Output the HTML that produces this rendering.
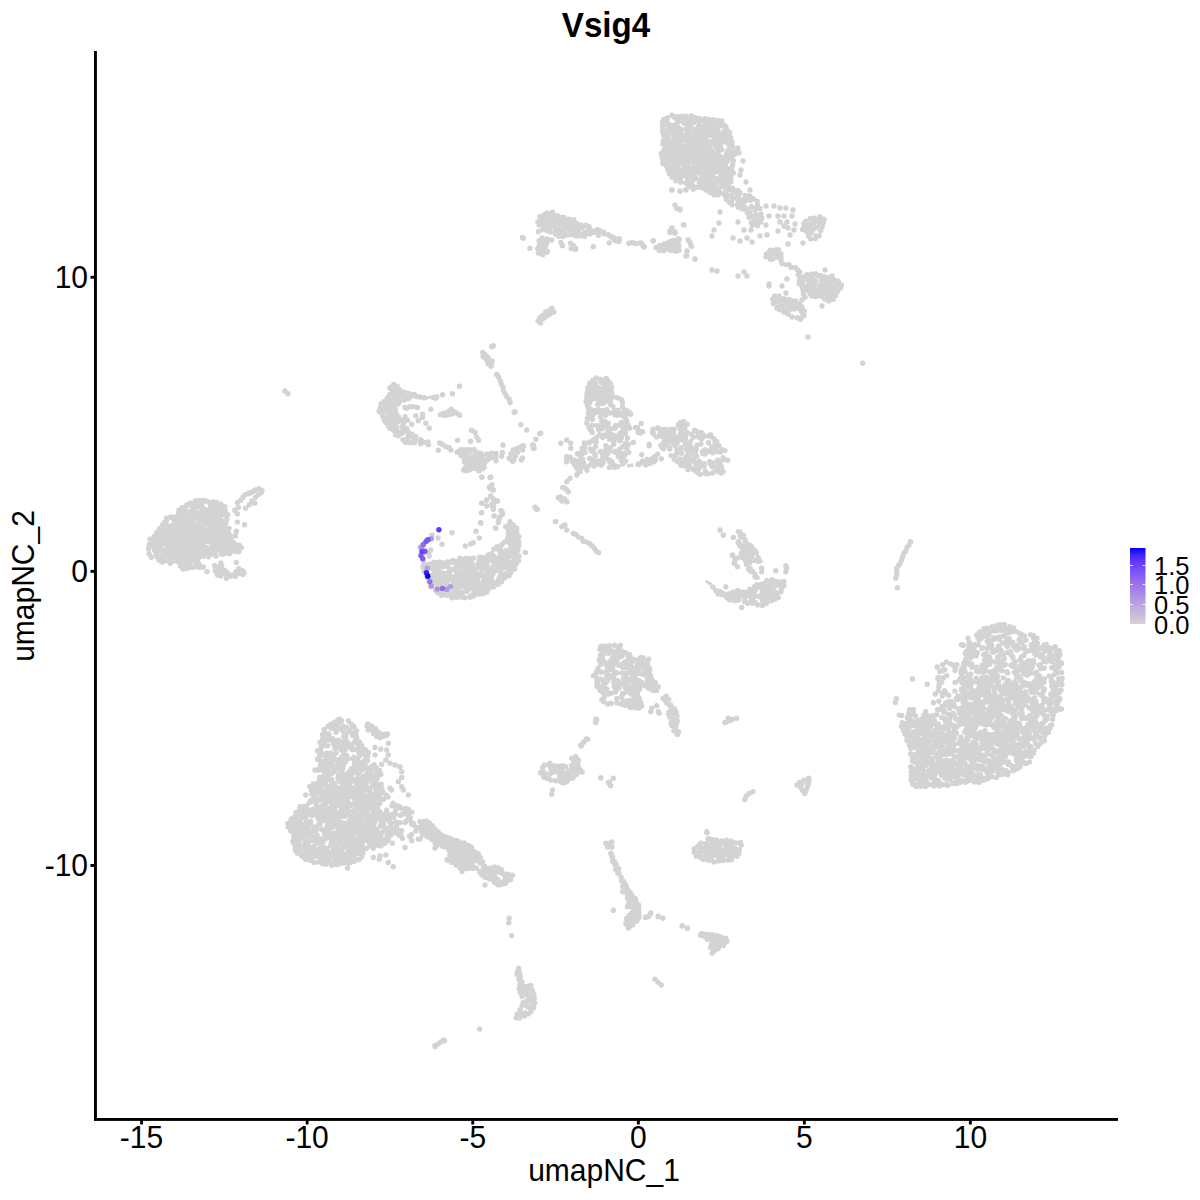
<!DOCTYPE html>
<html><head><meta charset="utf-8"><style>
html,body{margin:0;padding:0;background:#fff;width:1200px;height:1200px;overflow:hidden}
svg{position:absolute;left:0;top:0}
text{font-family:"Liberation Sans",sans-serif}
</style></head><body>
<svg width="1200" height="1200" viewBox="0 0 1200 1200">
<rect width="1200" height="1200" fill="#fff"/>
<g fill="#d3d3d3">
<polygon points="426.7,399.7 431.7,398 430.8,395.8 425.9,396.3 425.9,396.4 426,396.6 426.1,396.8 426.2,397 426.3,397.2 426.4,397.4 426.4,397.7 426.4,397.9 426.4,398.1 426.3,398.4 426.3,398.6 426.2,398.8 426.1,399 426,399.2 425.8,399.4 425.6,399.6 425.5,399.7 425.5,399.7"/>
<polygon points="633.3,463.3 626.7,464.2 627.5,467.5 633.3,466.7 634.1,466.7 634.1,466.7 633.9,466.5 633.8,466.3 633.6,466.2 633.5,466 633.3,465.8 633.2,465.6 633.2,465.3 633.1,465.1 633.1,464.9 633.1,464.6 633.1,464.4 633.1,464.1 633.2,463.9 633.3,463.7 633.4,463.5 633.5,463.3 633.5,463.3"/>
<polygon points="590,471.7 588.3,470 584.3,470.7 584.3,470.7 584.5,470.8 584.7,471 584.9,471.1 585.1,471.3 585.2,471.5 585.3,471.7 585.4,471.9 585.5,472.1 585.6,472.4 585.6,472.6 585.6,472.8 585.6,473.1 585.6,473.3 585.5,473.6 585.4,473.8 585.3,474 585.3,474"/>
<polygon points="710,581.7 705,579.7 705,581.7 710,585.8 710.5,586.5 710.5,586.5 710.5,586.3 710.5,586.1 710.6,585.8 710.7,585.6 710.8,585.4 710.9,585.2 711,585 711.2,584.8 711.3,584.7 711.5,584.5 711.7,584.4 712,584.3 712.2,584.2 712.4,584.2 712.6,584.1 712.9,584.1 713.1,584.1"/>
<polygon points="619.6,870.8 616.5,862.5 613.3,856.2 612.3,850.2 612.2,850.4 612,850.5 611.8,850.6 611.6,850.8 611.4,850.8 611.2,850.9 610.9,851 610.7,851 610.5,851 610.2,851 610,850.9 609.8,850.9 609.6,850.8 609.4,850.7 609.3,850.6 611.2,858.3 614.4,866.7 617.5,875 617.9,876.1 617.9,876.1 618,875.9 618.1,875.7 618.2,875.4 618.3,875.2 618.4,875.1 618.6,874.9 618.8,874.7 619,874.6 619.2,874.5 619.4,874.4 619.6,874.3 619.9,874.3 620.1,874.2 620.3,874.2 620.6,874.3 620.8,874.3 621,874.4 621.2,874.5 621.4,874.6 621.4,874.6"/>
<path d="M694.1 160.7h0M695.1 156.5h0M674.6 156.9h0M718.9 123.5h0M708.8 165.1h0M662.3 158.2h0M675 135.3h0M695 151.2h0M699 167.1h0M709.4 152.5h0M722.4 172.5h0M677.9 139.1h0M717 148h0M690.1 121.8h0M717.9 137.5h0M716.4 125.4h0M674.1 160.7h0M675.1 174.4h0M708.1 125.3h0M676.7 137.5h0M719.7 140.3h0M676.5 147.5h0M676.7 136.6h0M685.1 139.7h0M667.8 162.5h0M705 145.7h0M731 154.6h0M724.3 130.6h0M727.3 181.3h0M725.4 164.2h0M678.6 172.3h0M721.2 163.6h0M674 173.5h0M677.8 160.7h0M705.9 138.4h0M676.1 117.3h0M693.6 120.8h0M688 161.7h0M703.7 127.2h0M712.2 192.9h0M707.5 154.5h0M666.7 159.6h0M726.7 174.8h0M718.9 189.1h0M691.6 179.1h0M702.9 165.9h0M703.6 164.6h0M725.2 174.1h0M714.7 162.4h0M696.2 134.4h0M697.4 165.1h0M679.8 116.9h0M710.6 132.2h0M727.1 168.7h0M726.1 142.1h0M675.7 150.4h0M727.7 186.3h0M703.6 141.3h0M713 191.8h0M673.5 152h0M676.8 149.1h0M697.1 141.2h0M732.7 152.1h0M702.7 140.7h0M662.6 126.8h0M678.5 127.2h0M707 151.6h0M708.9 180.5h0M711 131.9h0M674.2 116.9h0M713.2 130.3h0M686.4 171.7h0M705.9 176.4h0M718.8 188.4h0M729.1 173.7h0M694.2 165.9h0M688.6 161.4h0M719.2 191.4h0M708.6 132.4h0M720.8 167.2h0M700.3 179.1h0M727.4 184.3h0M667.2 151.2h0M717.1 154.9h0M673.8 142.7h0M671.4 127.9h0M713.9 183.1h0M667.5 133.7h0M682.3 174.2h0M699.3 183.4h0M683.9 146.4h0M731.7 157.9h0M675.8 158.8h0M731.8 157.2h0M719.5 160.9h0M711.5 121.3h0M728.4 137.5h0M670.4 150.6h0M726.7 154h0M675.1 165.3h0M662.9 131.5h0M711.2 141.7h0M706.3 124.4h0M670.1 156.8h0M675.6 158.3h0M688.6 149h0M672.8 132.3h0M707.7 158.3h0M705.7 184.4h0M715.1 180.7h0M684.2 141.1h0M725.8 126.7h0M714.1 136.7h0M721.8 149.7h0M670.4 148.2h0M669.6 156.4h0M697.8 170.7h0M666.3 124.5h0M701.4 157.1h0M671.9 130.7h0M694.8 177.1h0M695.2 157.1h0M712.2 183.4h0M694.2 175h0M675.4 129.2h0M719.6 172.3h0M707 148.3h0M719.8 136.6h0M715.4 178.1h0M725.2 171.5h0M716.9 148.4h0M666.3 143.3h0M707.7 165.8h0M730 169.2h0M709.2 161.5h0M707.9 172h0M706 175h0M690.4 120h0M688.5 123.9h0M727.1 159.9h0M707.6 180.6h0M704.7 176.6h0M695.5 129.5h0M691.8 158.1h0M687.8 138.8h0M702 138.6h0M682.8 117.1h0M692.5 154.1h0M678.9 157.8h0M713.8 153.4h0M720.6 164.2h0M706.6 152.4h0M665 158.2h0M693.4 169.3h0M680.3 162.5h0M717.8 158.4h0M730.5 174.6h0M718.3 165.9h0M681 170.7h0M704.3 166.5h0M675 135.9h0M727.8 186.2h0M665.6 137.6h0M706.6 124.2h0M666.5 122.9h0M701.3 166.4h0M696 132.8h0M715.4 183h0M706.6 177.4h0M692.1 136.6h0M688.1 168.2h0M684.9 159.8h0M728.2 150.1h0M666.9 122.6h0M696.5 170.7h0M717.6 122.1h0M709.4 122.5h0M714 171.4h0M671.6 144.6h0M687.9 125.4h0M693.1 180.1h0M684.3 147.9h0M726.3 135.8h0M687.8 145h0M689.4 131.6h0M719.2 159.2h0M702.2 130.1h0M725.3 138.5h0M698.7 159.4h0M667.3 122.5h0M707.4 127.5h0M708.4 135.6h0M716.9 157.6h0M689.9 143h0M710.1 155.4h0M713.7 172.5h0M691.1 182h0M723.3 180.3h0M707.8 157.8h0M719.6 149.7h0M688.5 129.4h0M692.1 139.3h0M665.5 140.6h0M708.4 178h0M665.7 152.6h0M669.1 130.7h0M678.3 173.3h0M677.5 130.8h0M673.8 176.5h0M701.1 181.2h0M727.7 143.3h0M730.9 154.5h0M719.5 146.7h0M698.7 137.9h0M709.1 135h0M695.6 145.7h0M713.1 164.4h0M672.6 141.7h0M724.5 157.2h0M700.1 128h0M722.8 181.6h0M680.9 173.2h0M696.1 153.4h0M703.9 184.5h0M718.7 149.3h0M676.4 159.4h0M683.9 140.8h0M683.5 153.3h0M687.4 170.9h0M689.9 152.9h0M721.6 168.2h0M688.7 172.7h0M702.3 152.6h0M676.3 165.2h0M688.6 159.1h0M685.8 147.3h0M679.9 132h0M702.2 173.8h0M721.4 123.4h0M712.8 130.4h0M722.1 163.3h0M677.7 128.5h0M692.3 156.8h0M717 181.6h0M685.3 148.9h0M690.4 171.9h0M718.7 168.7h0M686.1 168h0M688.7 156.7h0M721.3 164.8h0M717 188.1h0M686.9 156h0M698.8 173.1h0M706.8 131.8h0M679 162h0M687.5 153h0M727 159.4h0M702 137.1h0M705 125.8h0M678.7 161.8h0M674.7 159.7h0M729.6 168.6h0M710.1 174.9h0M704.3 180.2h0M675.7 153.4h0M689.3 161.5h0M699 137.1h0M685.4 167.2h0M710 127.6h0M704.9 153.5h0M706.6 171h0M715.9 154.8h0M722.2 184.3h0M692.8 161.2h0M699.5 157.9h0M727 141.6h0M714 187.9h0M704.7 176h0M704.4 121.6h0M693.7 156.1h0M699.5 135.1h0M690 134.8h0M709.7 185.2h0M719.8 133.7h0M702.5 188.1h0M718.9 125.9h0M679 139.9h0M720.6 147.7h0M703.8 119.7h0M726.6 140.6h0M695.6 132.5h0M687 153.7h0M675.9 166.5h0M724.5 172.9h0M711.9 190.9h0M667 133.8h0M712.9 131.7h0M678.3 169.1h0M688.3 168.9h0M704.1 134.3h0M728.7 169.3h0M693.3 158.2h0M664.5 163.9h0M679.5 180.1h0M682 176.3h0M681.5 159.8h0M697.6 130.4h0M708.1 144.7h0M718.2 157.3h0M722.7 170.6h0M717.9 129.2h0M678.3 151.2h0M718.4 179.2h0M696.8 133.7h0M697.5 118.8h0M713.2 161.7h0M674.3 128.1h0M697.3 150.7h0M680.3 179.8h0M727.2 161.4h0M718.8 135h0M683.8 119.4h0M706.4 158h0M673.7 136.3h0M711.5 182.3h0M665.7 148.8h0M694.3 175.5h0M671.5 147.4h0M692.1 122.1h0M714.6 134.4h0M701.4 135.3h0M729.1 145.1h0M732.6 164.8h0M690.5 167.9h0M686.2 171.5h0M704.2 186.8h0M689.8 183.3h0M718.1 133.2h0M674.6 159.9h0M676 133.1h0M683.7 151.7h0M710.6 184.9h0M689.1 121.8h0M687.6 137.9h0M674.5 136.9h0M728.4 173.1h0M687.5 128.3h0M687.4 177.1h0M684.6 146.7h0M725.4 142h0M699 120.4h0M678.5 119.3h0M683.9 149.9h0M671.1 172.4h0M714 169.2h0M676.1 138.4h0M690.7 146.9h0M677.7 139.3h0M676.9 119.2h0M707.1 161.2h0M710 189.4h0M711.4 169.2h0M724.4 134.7h0M667.7 150.1h0M665.6 146.6h0M697.4 138.3h0M690.5 153.9h0M709.6 135.1h0M686.1 149.7h0M703.6 172h0M689.7 145.1h0M690.6 120.4h0M703.8 153.4h0M679.6 117.9h0M726.1 161.2h0M709.8 130.9h0M687.6 162h0M717.4 166.1h0M691.1 149.2h0M721.6 186.2h0M671.1 156.5h0M672.1 131.4h0M710.7 134.7h0M700.8 147.4h0M697.1 167.9h0M706.6 160.8h0M684 173.2h0M672.8 165.6h0M702.2 145.5h0M715.7 158.6h0M679.3 141.9h0M698.6 126.1h0M666.2 124.2h0M669.4 152.1h0M696.2 129h0M679.7 156.5h0M689.8 173.2h0M713.3 142.1h0M716.5 183.3h0M702.5 149.6h0M706.5 182.3h0M670.3 146.1h0M678 130.7h0M711.2 149.5h0M713.1 125.5h0M682 174.4h0M670 142.4h0M700.7 154.6h0M681.9 147.3h0M716.9 194.3h0M711.7 159.6h0M671.9 130h0M729.1 136.1h0M670 141.8h0M702.4 127.5h0M681.1 134.2h0M687.8 136.7h0M683.7 122.3h0M696.4 149.1h0M690 120.6h0M709 165.7h0M714 130h0M673.5 125.5h0M687.3 176.2h0M720.2 179.3h0M690.3 180.1h0M717.1 194.7h0M662.9 162.1h0M689.5 145.5h0M720.2 145.1h0M687 138.3h0M684.6 123.5h0M715.2 132.9h0M701 170.3h0M668.9 127.4h0M692.6 116.8h0M690.6 141.7h0M725.3 141.6h0M677.2 148.6h0M674.1 137.8h0M730.2 141.7h0M672 166.7h0M708.1 132.9h0M725.8 184.4h0M697.9 161.3h0M722.2 171.1h0M709.6 149.5h0M677.9 164h0M698.7 118.6h0M693.7 163.4h0M714.9 141h0M696.9 134.7h0M719.3 156.8h0M713 136h0M694.3 158.8h0M675.5 138.3h0M696.9 135.3h0M723.4 177.5h0M727.1 179.6h0M687.8 124h0M721.9 125.4h0M689.5 183.8h0M707 186h0M675.5 169.4h0M684.2 166.3h0M705.1 171.5h0M670.5 171.4h0M670.6 125.3h0M705.6 144.5h0M714.8 144.8h0M690.9 127.7h0M692.1 181.5h0M694.5 156.4h0M686.4 172.2h0M703.4 138.7h0M710.5 152.3h0M689.4 175.3h0M693.8 121.1h0M681.7 151.2h0M682.5 171.5h0M679 148.9h0M726.4 136.1h0M704.2 159.6h0M687.7 145.9h0M709.9 143.5h0M707.3 153.5h0M695 141.2h0M690 182.2h0M666 152.9h0M709 133.4h0M676.4 145.5h0M689.9 175.2h0M673.3 167.8h0M715.2 136.2h0M714.4 178h0M700.2 158.6h0M718.6 140.1h0M670.3 161.3h0M667.6 156.9h0M717.8 135.7h0M665.2 133.4h0M701.8 152.7h0M699.4 148.5h0M691.3 116.9h0M720.8 174.6h0M672.6 158.4h0M708 183.7h0M691.5 122.3h0M685.1 155h0M702.5 156h0M689.9 139.9h0M680 145.4h0M695.9 144.6h0M665.7 158.1h0M690.3 133.8h0M688.3 141.1h0M678 175.8h0M687.8 163.7h0M683.1 164.6h0M684.1 155.7h0M668 136.1h0M719.1 150h0M690.5 138.8h0M721.7 142.2h0M720.8 178.9h0M729.2 176.1h0M691.7 170.3h0M718.1 151.2h0M688.7 151.7h0M669.8 141.5h0M709.7 159.8h0M669.8 140.8h0M676.6 149.1h0M695.6 118.5h0M688.7 169.8h0M697.1 171.1h0M717.9 124.4h0M673.3 162.8h0M686.4 129.1h0M704.2 157.5h0M703 183.2h0M703.7 154.4h0M685.1 171.7h0M680.2 174.3h0M679.9 121.1h0M688.7 173.2h0M706.2 160.7h0M727.4 152.4h0M678 176.1h0M702.5 160h0M716.9 180.3h0M718.3 133.4h0M700.1 164.7h0M716.9 162.5h0M728.4 171h0M730.4 173.4h0M723.6 174h0M679.3 117.6h0M679.7 139.4h0M670.8 154.7h0M682 138.2h0M723.4 164.7h0M714.6 158.7h0M728.1 177.9h0M687.6 178.9h0M694.2 145.6h0M729.9 156.4h0M686.6 134.5h0M668.6 161.1h0M709.7 121.4h0M711.1 184.3h0M699.1 122.2h0M674.6 158.1h0M697.5 131.8h0M691.6 154.8h0M696.6 160.5h0M702.1 126.8h0M685.6 172.1h0M662.7 155.1h0M711.1 164.9h0M711.3 157.5h0M716.3 180.5h0M690.9 142.8h0M680.3 162.8h0M685.6 169.9h0M674 128h0M696.1 178.6h0M678.5 168.2h0M699.3 136.4h0M674.6 134.5h0M685.2 174h0M718.7 159.1h0M716.8 135.5h0M688.2 144.5h0M718.1 143h0M688.8 138.9h0M715.2 154h0M662.2 155.8h0M671.6 132.4h0M675.2 126.8h0M725.4 174h0M694.2 145.7h0M666.4 130.8h0M664.8 140.5h0M670.1 158.1h0M702.5 176.9h0M677.4 122.1h0M716.6 189.8h0M672.9 142.4h0M694.7 164.2h0M695.1 131.2h0M716.7 148h0M673.1 129.8h0M676.6 117.6h0M719.4 155.9h0M695.1 130.6h0M683.4 119.3h0M706.2 145.5h0M706.6 141.3h0M725.5 162.4h0M700.5 152.8h0M723.3 186.4h0M682.2 129.6h0M678.3 162.6h0M730.2 138.7h0M711.2 143.7h0M698.6 146.3h0M697.3 137.5h0M707.2 152.9h0M697.4 154.5h0M693.4 122.8h0M719.3 136.3h0M697.9 150h0M730 155.1h0M697.8 143.3h0M711.1 179.7h0M720.1 180h0M720.5 140.2h0M698.5 143.4h0M708.1 121.1h0M724.6 140.8h0M711.7 176.5h0M706.5 126h0M717.1 178.7h0M707.7 155.3h0M686.9 117.8h0M719.1 134.3h0M717.6 171.4h0M684.2 137.8h0M708.4 170.8h0M717.5 142.6h0M699.2 155h0M724 158.8h0M715.4 135.9h0M703.5 135.3h0M666.3 120.2h0M707.8 149.1h0M678.3 153.8h0M670.1 150.6h0M716.7 160.3h0M662.5 122.3h0M662.7 125.7h0M662.6 130.7h0M663.5 135.3h0M663.3 140.7h0M662.9 144h0M663.8 150.2h0M661.3 153.4h0M662.2 157.6h0M663 163.5h0M666.7 166.2h0M667.8 170h0M669.5 173.7h0M671.9 177.1h0M675.9 180.7h0M680.6 182.3h0M685.9 183h0M688.5 186.3h0M693.3 186.1h0M697.5 187.4h0M702.2 187.8h0M706.1 190.1h0M709.9 192.4h0M714 194.8h0M718.2 194.8h0M723.3 193.6h0M725.8 190.3h0M728.7 187.1h0M730.8 182.1h0M730.9 178.4h0M733.3 173h0M731.6 168.6h0M732.6 164.5h0M733.2 160.8h0M734.7 154.2h0M734.3 151.4h0M732.7 146.8h0M732 142.1h0M730.8 137.6h0M729.8 132.4h0M726.7 129.5h0M724.2 125.3h0M721.7 121h0M718.4 120.8h0M713.7 119.7h0M708.8 119.2h0M705.1 118.8h0M699.2 118.4h0M694.6 117.4h0M691.3 115.9h0M685.8 116.1h0M681.3 116.3h0M676.6 116.8h0M671.9 115.3h0M667.3 117.9h0M663.7 119.4h0M755.2 220.7h0M751 214.6h0M742.5 200h0M755 209.7h0M737.6 204.8h0M755.6 222.8h0M731.4 201.6h0M738.5 196.8h0M728.6 189.8h0M750.7 200.3h0M738.2 201.8h0M735.8 198h0M735 192.4h0M742.3 207.5h0M757.8 216.7h0M749.4 214.4h0M740.3 202.9h0M742.3 208.2h0M754.1 221.9h0M747.9 199h0M757.1 219.8h0M750.5 216.3h0M757.5 225.7h0M745.1 207.6h0M756.8 207.7h0M725.5 193.8h0M746.9 210.2h0M749.9 196.3h0M745.1 200.9h0M732.9 190.9h0M748.5 198.1h0M751.7 216.9h0M730.2 195.8h0M731.9 197.1h0M756.2 214.7h0M749.7 211.9h0M751.5 206.8h0M743.2 202.7h0M725.9 192.1h0M725.2 195.8h0M726.4 199.5h0M729.6 202.4h0M732.2 204.7h0M738.3 207.3h0M742.4 209h0M746.9 209.2h0M747.3 212.6h0M749 217.2h0M751.4 222.6h0M752.3 225.1h0M757.2 225.1h0M760.7 221.9h0M761.8 218.2h0M761 213.9h0M759.9 208.4h0M757.5 204.9h0M757.1 201.3h0M753.1 198.8h0M749 195.9h0M745.2 195.5h0M740 192.8h0M737.8 190.5h0M732.7 188.2h0M729.5 188.4h0M738 148h0M739 153h0M743 161h0M741 170h0M740 175h0M746 182h0M750 190h0M672 190h0M680 191h0M686 190h0M693 189h0M675 205h0M680 209h0M720 212h0M719 223h0M714 230h0M712 236h0M684 225h0M766 206h0M738 222h0M744 230h0M751 230h0M733 238h0M740 241h0M747 238h0M752 242h0M760 236h0M767 235h0M766 225h0M769 216h0M778 231h0M788 244h0M774 206h0M780 208h0M786 208h0M778 216h0M784 216h0M793 210h0M792 216h0M795 224h0M794 230h0M790 235h0M780 222h0M784 226h0M788 228h0M787 222h0M821.7 225.2h0M823.8 220.3h0M809.2 224.3h0M811 232.7h0M821.4 221.5h0M808.2 227.9h0M812.2 224.2h0M809.9 233.8h0M816.4 220.7h0M804.5 229h0M816.1 235.6h0M813.4 223h0M814.1 228.5h0M809.4 227.3h0M813.5 226h0M804.2 226.1h0M817.7 220.4h0M812.2 230.6h0M812.7 223.7h0M822.2 221.9h0M807.8 227.1h0M820.1 221.7h0M816.1 227.6h0M820.2 218h0M821.7 222.7h0M819.4 224.6h0M804 223.5h0M802.6 229.4h0M806.3 231.3h0M808.3 235.9h0M810.7 239h0M815.4 238.6h0M819.2 235.8h0M820.7 230.5h0M822 227h0M823.3 223.1h0M824.1 219.3h0M819.8 216.6h0M814.2 218.3h0M810.3 218.6h0M805.9 221.2h0M803 243h0M662.3 248.4h0M677 244h0M675.2 243.7h0M674.9 246.7h0M667 246.6h0M674.1 247.1h0M674.6 247.4h0M668.8 244.6h0M673.1 247.6h0M674.9 249.1h0M663.6 244.9h0M674.4 246.5h0M666.1 245.8h0M661 245.9h0M659.1 250.4h0M663.7 250.8h0M670 250.1h0M672.9 250.2h0M679.1 250.2h0M678.9 245.8h0M678.1 242.7h0M673.3 240.4h0M669.1 242h0M664.7 243.8h0M659.9 245.5h0M656.1 247.4h0M672 228h0M675 232h0M670 231h0M678 239h0M688 240h0M691 246h0M687 251h0M686 256h0M695 259h0M653 241h0M643 246h0M641 243h0M712 270h0M717 271h0M738 276h0M744 272h0M747 276h0M769 284h0M769 286h0M782 286h0M786 293h0M787 279h0M769.4 253.5h0M770.3 251.1h0M775.8 250h0M769.2 254.5h0M771.5 258.7h0M776.9 255.2h0M768.9 252.6h0M775 253.1h0M770.7 255.6h0M766 256.7h0M770.4 259.3h0M772.7 259h0M777 257h0M777 255.1h0M778.5 249.7h0M773.9 250.5h0M770.2 250.3h0M766.5 253.9h0M781 254h0M780.9 257.2h0M781.1 260.7h0M781.9 263.6h0M785.6 264.6h0M789 264.6h0M791.2 267.4h0M795.3 267.5h0M797.6 270h0M799.8 272h0M798.4 274.9h0M800.6 278.2h0M801.8 281.2h0M802 284.4h0M802.6 288.2h0M803.2 290.8h0M803.3 294.2h0M805.1 297.3h0M834.2 280.2h0M818.3 291.3h0M811.9 274.6h0M808.6 280.5h0M837.2 281.1h0M829.4 286.7h0M831.5 287.7h0M821.1 291.8h0M833.9 289.2h0M830 287.1h0M827.6 291.9h0M814.3 291.2h0M833.1 286.4h0M817.9 292.3h0M815.6 280.6h0M808 285.2h0M824.7 293.6h0M813.7 283.1h0M824.9 291.1h0M824.8 283.8h0M837.2 284.7h0M812.5 283.5h0M815.5 281.4h0M802.6 282.2h0M816.7 295.5h0M821.3 280.1h0M811 287.1h0M809.9 288.4h0M813.5 281.7h0M831.7 292.8h0M835.8 293.9h0M831.9 278.3h0M825.4 290.2h0M809.6 279.9h0M824.6 282.6h0M829.4 288.2h0M819.8 286h0M828.7 282.9h0M823.4 285.1h0M810.3 281.7h0M813.5 294.7h0M801.1 278.4h0M824.8 290.7h0M811.2 280.3h0M819.7 285.3h0M834.1 288.3h0M828.7 280.3h0M834.4 293.5h0M801.3 282h0M836.4 283.5h0M813.8 279.5h0M825 291.7h0M817.5 295.7h0M833.9 280.6h0M822.3 288.4h0M808.1 279.4h0M810.6 288.9h0M828.4 285.2h0M824.6 286.8h0M826.2 277.7h0M824.1 291.3h0M811.5 277.9h0M827.8 295.7h0M834.2 295.6h0M810.9 285.6h0M810.1 290.6h0M827.6 299.6h0M830.3 296.9h0M823 285h0M818.2 275.7h0M801.8 285.4h0M822.3 278.3h0M834.7 289.7h0M809.6 275.3h0M807.3 279.5h0M830.7 281.5h0M810.9 294.4h0M823.6 280.9h0M811.8 277.1h0M824.8 280.5h0M831 281.4h0M825.3 289.6h0M814.8 289.3h0M814.3 285.7h0M802.7 277.1h0M799.4 280.2h0M799.1 283.8h0M803.7 286.9h0M806.5 289.8h0M809.7 292.7h0M811.7 296h0M815.7 296.5h0M821.4 296.5h0M824.8 299.1h0M828.9 300.9h0M833.2 299.2h0M835.6 295.5h0M837.4 291.3h0M840.7 288.1h0M841.5 284.9h0M838.3 281.1h0M832.3 277.8h0M829.4 277.6h0M824.4 276.7h0M820.4 275.5h0M815.7 273.7h0M811.6 274.1h0M806.7 274.6h0M825 270h0M832 276h0M822 306h0M802 300h0M788.4 303.7h0M792.5 306h0M787.2 308.2h0M791.2 301.6h0M792.8 306.7h0M777.2 300.7h0M785.6 309.4h0M791.9 306.4h0M782.8 301.2h0M786.1 311.3h0M799.9 305.5h0M790.6 307.5h0M772.8 299.1h0M773.9 302.6h0M784 306.5h0M801.6 306.6h0M780.9 309h0M779.8 299.6h0M794.1 309h0M788.4 299.4h0M789.4 299.8h0M796.6 305.7h0M792 305.7h0M775.5 298.3h0M796.6 306.8h0M801.5 311.4h0M788.9 303.6h0M787.5 307.3h0M785 301.1h0M785.9 311.3h0M797.1 308.2h0M787.8 301.2h0M779.2 298.2h0M801.1 317.9h0M788.3 314.1h0M788.9 299.6h0M778.1 307.6h0M786.8 310.2h0M794.1 308.2h0M780.1 309.6h0M791.5 305.3h0M782.1 305.8h0M786.4 305.7h0M785.5 308.3h0M803.1 313.8h0M777.8 307.1h0M776.6 301.3h0M790.7 309h0M795.2 308.6h0M777.9 302.1h0M772.7 298.9h0M773.4 303.5h0M776.9 308h0M779.7 309.8h0M784 312.1h0M787.6 313.5h0M792.1 317h0M797.3 317.8h0M800.4 319.3h0M804.2 315.6h0M804.4 311.1h0M802.1 307.5h0M799.3 304.2h0M795.7 301.3h0M791.6 300.6h0M788.6 299.8h0M783.9 298.7h0M779 296h0M774.8 296.3h0M808 337h0M862.7 363.3h0M572.9 227.4h0M566.8 220.1h0M544.6 222.7h0M578.9 233.5h0M545.7 214.4h0M563.1 218.3h0M547.5 213.7h0M544.6 217.1h0M579.8 228.5h0M546.8 225.8h0M582.9 234.8h0M617.4 239.1h0M574 231.1h0M578.4 225.7h0M542.6 220.1h0M570 224.7h0M560.4 229.5h0M552.8 218.8h0M580 226.6h0M560.1 218.5h0M568.1 234.8h0M618.1 240h0M560.7 223.7h0M561.2 226.7h0M588 230.9h0M543.9 229.6h0M563.2 219.5h0M586.3 233h0M560 231.6h0M552.6 215.7h0M566.1 222.5h0M577.1 232.2h0M549.8 215.3h0M556.2 230.7h0M571 223.3h0M544.3 225.5h0M554.3 226.6h0M549.4 228.1h0M555.6 230.3h0M552.3 221.6h0M556.3 225.2h0M553.5 218.2h0M556.1 230.9h0M563.6 230.8h0M557.3 220h0M567.8 222.1h0M575 227.3h0M614.3 239.4h0M567.1 235h0M552.3 225.4h0M587.1 232.6h0M562.8 218.6h0M563.7 234.2h0M588.8 231.2h0M543.9 219.2h0M546.4 218.1h0M550.3 215.5h0M567.8 228.9h0M566.3 227.6h0M553.6 226.6h0M584.5 232.6h0M545.6 215.6h0M572.2 222.8h0M548.5 220.9h0M561.3 226.3h0M565.7 223.3h0M555.5 218.6h0M571.8 234.5h0M562 223h0M557.7 220.8h0M553.5 222.2h0M540.3 222.9h0M555.4 222.4h0M582.5 227.5h0M613.8 237.8h0M566.8 222.5h0M573.3 230.2h0M569.1 229.5h0M559.1 235.3h0M597.4 229.8h0M571.7 221.6h0M545.5 225.1h0M568.8 220.2h0M564 222.8h0M562.5 235.6h0M583.9 234.2h0M564.2 229.6h0M560.5 219.1h0M557.2 215.9h0M545.5 222.7h0M555 215.9h0M562.2 234.7h0M586.7 233.7h0M560.7 221.6h0M555.1 228.1h0M547.6 216.5h0M619.3 240.2h0M614.4 238.1h0M537.9 222h0M539.2 225h0M542.6 229.7h0M547 230.5h0M550.4 232h0M555.5 234.1h0M558.7 236.2h0M563.1 236.5h0M566.3 234.7h0M572.3 234.8h0M576.3 236.1h0M579.8 235.9h0M584.5 236.4h0M587.1 233.8h0M590.1 233.9h0M594.3 232.6h0M598.5 235.2h0M604.2 233.9h0M608.9 235.1h0M611.5 236.7h0M615.4 240.8h0M618.7 241.5h0M619.2 238.6h0M615.7 239h0M611.2 237h0M608.3 234.8h0M603.6 232.3h0M599.8 230.8h0M595.4 230.6h0M590.1 229.5h0M589.1 226.8h0M586.2 225.3h0M581.2 225.3h0M577 223.5h0M573.8 219.7h0M569.1 219.3h0M564.2 217.5h0M561.4 217.4h0M557.5 215.9h0M552.5 212.3h0M547.1 213h0M543.6 215.2h0M539.9 216.8h0M543.2 246.1h0M541.1 247.7h0M540.5 244h0M541.3 252.8h0M543.9 243h0M542.7 250.7h0M541.4 253.9h0M541.7 240.1h0M542.6 250.7h0M542.9 250.1h0M539.1 246.4h0M546.3 240.1h0M541.2 242.2h0M546.2 251h0M539.1 240.7h0M539.8 243.8h0M537.7 248.6h0M538.4 253.1h0M542.7 254.8h0M546.5 252.4h0M547.3 251.2h0M545.3 246.2h0M546.8 243.2h0M551.7 240h0M547.1 239h0M542.2 237.9h0M573.1 245.5h0M570.4 243.3h0M571.1 248.5h0M575.4 249.5h0M575.8 248.5h0M573.5 245.8h0M522.5 237.5h0M523.3 238.3h0M530 248.3h0M538.3 231.7h0M560.8 242.5h0M562.5 245.8h0M593.3 246.7h0M609.2 243h0M628.9 243.3h0M632.3 242.5h0M635.4 243.5h0M638.9 243.1h0M642 243.9h0M644.3 247h0M666.6 247.3h0M665.6 247.7h0M675.2 249.5h0M667.5 243.9h0M664.9 246.2h0M662.9 245.9h0M670.5 241.4h0M672.9 248h0M661.4 246.4h0M671.8 246.5h0M657.7 247.5h0M661.8 249.7h0M666.4 248.9h0M671.9 250.5h0M675.7 251.3h0M677.2 249.1h0M674.2 247.6h0M671.7 242.6h0M667.9 243.4h0M665 244.2h0M659.7 246h0M653.3 240.8h0M671.7 228.3h0M670 232.5h0M675 233.3h0M678.3 240h0M679.2 239.2h0M683.3 224.7h0M688.3 240h0M690 242.5h0M691.7 246.3h0M686.7 251.3h0M686.7 255.8h0M695 259.2h0M675 205h0M676.7 208.3h0M680 210h0M671.7 190h0M680 191.3h0M685.8 189.7h0M693.3 189.2h0M538 320.9h0M540.5 323.1h0M539.7 317.6h0M542.2 319.4h0M542.4 315.4h0M544.7 317.4h0M545.5 312h0M547.9 315.4h0M549.3 310.5h0M550.6 313.5h0M552 308.2h0M553.9 312.1h0M407.9 436.8h0M406 431h0M392.2 406.9h0M391.4 428.2h0M399.8 393.3h0M396.7 431.8h0M387.9 417.1h0M396.3 421h0M398.4 389.1h0M391.4 421h0M402 433.2h0M396.7 427.6h0M403.1 429.3h0M413.2 436.3h0M404.5 430.6h0M387.2 412h0M393.5 393.5h0M414.1 439.2h0M382.1 412.6h0M393.6 395.5h0M388 424.4h0M389.6 406.7h0M385.6 403.1h0M395.2 404h0M407.2 398.2h0M405.4 394.9h0M390.6 421.2h0M387.8 402h0M403.4 431.4h0M403.7 440.1h0M394.3 422.3h0M398.3 418h0M386.6 409.1h0M408.7 394.7h0M392.3 390.5h0M394.9 400.8h0M386.6 421.9h0M413 394.7h0M397.1 422.2h0M395.4 396.8h0M404.2 430h0M397.2 422.2h0M391.6 386.9h0M387.4 409.4h0M392.1 413.6h0M387.8 423.9h0M393.1 388.7h0M384.5 410.5h0M387.2 409.2h0M382.4 403.4h0M394.1 404h0M387.1 403.2h0M396.9 398h0M398 431.9h0M387 406h0M388.8 426.2h0M395 431.4h0M398.3 394.8h0M395.7 431.6h0M397.1 390.1h0M388.3 401.1h0M392 400.4h0M393.8 400.7h0M388.9 421h0M392.3 402.6h0M403.4 428.1h0M392.4 405.5h0M394.6 415.2h0M398.7 391.1h0M384.9 407h0M397.6 416.6h0M395.1 424.2h0M388.4 397.3h0M397.2 395h0M406.4 397.4h0M391 402.5h0M394.1 409.1h0M383.5 417.4h0M426.1 442.6h0M402.4 396.4h0M395.3 419.2h0M394.5 408h0M390.2 423.3h0M380 409.8h0M389.3 409.9h0M393.5 417.2h0M398.8 432.9h0M412.9 437.6h0M402.9 422.1h0M407.6 439.3h0M401.4 420.4h0M403.1 429.7h0M385.5 419h0M395.8 394.7h0M385.5 420.6h0M387.5 403.1h0M420.4 441.3h0M388.9 416h0M393.6 390.3h0M389.9 417.6h0M381.9 413.7h0M393.7 394.3h0M393.4 406.9h0M415.3 440.3h0M402.3 426.5h0M407.1 397h0M387.1 398.5h0M384.3 401.5h0M381.1 403.8h0M380.2 408.2h0M379.1 411.5h0M382.7 415.4h0M384.3 420.2h0M386.2 422.8h0M389.7 428.2h0M392.9 429.8h0M395.6 434.8h0M398.2 435.8h0M403 439.7h0M405.7 442.4h0M410 442.7h0M414.3 442.8h0M420.6 443.8h0M423.1 442.2h0M428.6 444.8h0M427.9 441.9h0M422.4 441.5h0M420.7 439.8h0M415.7 436.6h0M412.2 434.1h0M408.3 431.9h0M406.9 428.7h0M403.6 423.4h0M403.1 420.3h0M398.5 416.8h0M396 413.1h0M395.2 408.7h0M398.2 404h0M399.5 401.5h0M404.3 400.1h0M408.5 398.5h0M412 396.1h0M416.4 396.5h0M420.2 397h0M424.1 397.8h0M419.5 396.9h0M414.4 394.5h0M409.4 393.8h0M405.7 392.7h0M402.5 391.6h0M399 389.2h0M397.2 386.2h0M393.8 384.5h0M389.9 388h0M389.8 394.4h0M413.3 406.7h0M417.5 407.5h0M415.8 415.8h0M422.5 414.2h0M422.5 417.5h0M418.3 420.8h0M411.7 424.2h0M425.8 423.3h0M429.2 428.3h0M406.7 408.3h0M405 416.7h0M407.5 420h0M430.8 409.2h0M410 406.7h0M405 407.5h0M436.7 396.7h0M442.5 394.7h0M452.5 393.7h0M459.5 386.3h0M435.8 398.3h0M433.3 397.5h0M440.3 414.7h0M443.3 413.3h0M446.7 412.5h0M449.7 410.8h0M451.3 409.3h0M453.3 411.3h0M455.8 412.5h0M458.3 414.2h0M459.7 415.3h0M446.7 415h0M450 414.2h0M444.2 415.3h0M452.5 413.8h0M491.7 346.7h0M493.3 345.8h0M484.3 357.2h0M491.1 365.1h0M491 362.8h0M486.6 356.1h0M484.3 354.7h0M483 356.2h0M486.7 360h0M488 363.5h0M491.2 366.3h0M492.2 361.2h0M488.3 357.9h0M484.6 354.4h0M482.8 352.5h0M496.6 374.4h0M498.6 377h0M500.2 380.6h0M501.1 383.8h0M503 387h0M503.3 390.6h0M505.1 393.8h0M506.6 396.5h0M509 398.9h0M510.1 402.5h0M515 411.7h0M514.2 412.5h0M520.8 424.7h0M526.7 430h0M539.7 433.7h0M535.8 439.2h0M533.3 445h0M533.3 448.3h0M522.5 458h0M471.4 430.2h0M475.1 432.5h0M476.7 437.1h0M478.6 440.2h0M457.5 440.3h0M470.5 441.3h0M503 445h0M502.5 452.5h0M501.7 456.3h0M439.7 443h0M442.4 444.5h0M445.6 446.5h0M449.1 447.8h0M451 450.1h0M438.3 450.3h0M465.1 468h0M470.3 451.7h0M469.3 459.1h0M480.6 465.4h0M482.2 455.2h0M472.5 459.1h0M466.8 449.7h0M494.6 456.8h0M480.1 459.6h0M491.9 454.6h0M477.9 459.1h0M494.6 455.7h0M479.4 462h0M478.9 458.8h0M475.9 453.5h0M466.2 453.8h0M472.2 457h0M464.5 469.8h0M474.5 462h0M465.8 454.7h0M479.4 460.9h0M487.8 454.4h0M467.5 456.7h0M476.6 456.6h0M478.9 467.7h0M467.5 467.3h0M479.4 465.9h0M469 462.2h0M482.3 468.8h0M460 450.4h0M478.5 456h0M471.1 466.1h0M466.1 470.3h0M480.9 454.6h0M464.7 453.3h0M470.3 465.7h0M465.1 457.1h0M475.8 462h0M489.5 458h0M467.4 462.4h0M486.4 460.9h0M475.5 467.5h0M468.3 452h0M484.2 461.1h0M483.5 460h0M465.1 451.7h0M464.6 457.6h0M463.7 450h0M474.4 461.2h0M494.7 455h0M477 463.8h0M472.9 463.5h0M479.6 466.2h0M487.7 455.9h0M480.2 458.8h0M479.6 465.7h0M465.9 451.6h0M465.6 469.6h0M475 466h0M463.6 455.5h0M457.2 452.2h0M461.1 455.5h0M463.8 457.4h0M464.6 461.9h0M466.7 465.5h0M464.3 469.7h0M468.1 470.2h0M472 468.3h0M474.7 468.2h0M479.5 468.1h0M484 467.2h0M484.2 463h0M488.5 458.9h0M491.2 457.5h0M495.8 457.2h0M496.2 453.4h0M491.8 453.3h0M486.9 454.1h0M481.1 453.4h0M477.8 452.6h0M474.2 449.4h0M470.1 449.6h0M464.5 450h0M461.2 449.6h0M513.4 453.6h0M522 446.8h0M520.8 447h0M515.9 449.3h0M516.1 450.6h0M513.8 450.7h0M515.7 450.8h0M511.3 454.8h0M509.2 458.5h0M513.7 460.2h0M515.2 456.2h0M517.4 452.6h0M522.6 450.1h0M523.6 445.9h0M523.2 445.8h0M517.8 448.2h0M513.2 449.9h0M510.8 454h0M532.5 445h0M534.2 448.3h0M481.7 477h0M490 477.5h0M491.7 485.8h0M490 488.3h0M493.3 490h0M490.8 496.7h0M486.7 500h0M481.7 503.3h0M486.7 505.8h0M493.3 504.2h0M497.5 500.8h0M492.5 506.7h0M493.3 509.2h0M500.8 510.8h0M502.5 514.2h0M481.7 512.5h0M480.8 523.3h0M494.2 515.8h0M499.2 518.3h0M498.3 522.5h0M495.8 528.3h0M505.8 526.7h0M510 521.7h0M513.3 525h0M516.7 528.3h0M535 507.5h0M536.7 509.2h0M555.8 521.7h0M558.3 497.5h0M587.9 396.5h0M590.7 410h0M590.1 429.2h0M621.5 437.5h0M611 398.3h0M583.3 462.7h0M619.7 449.3h0M592.4 419.4h0M617.5 415.3h0M598.9 395.1h0M624.1 411.6h0M616.3 437.8h0M639 432h0M598.7 403.6h0M580.7 460.9h0M613.2 412.6h0M623.2 453.4h0M592.9 380.8h0M612.5 463.7h0M615.1 414.8h0M641.2 423.5h0M610.4 402.5h0M600.5 398.1h0M625.6 443.3h0M599.3 393.2h0M622.6 431.6h0M624.8 421.6h0M607.9 431.9h0M589.6 383.3h0M593.1 450.5h0M620.1 440.7h0M593 459.6h0M612.3 437.6h0M619.8 424.8h0M607.2 401.3h0M604.5 389.3h0M597.7 404.4h0M579.7 462.9h0M598.3 387.6h0M610.6 404.5h0M597.3 390.5h0M614.3 411.4h0M588.3 413.8h0M610 413h0M618.3 435.8h0M621.1 422.4h0M578.8 468.9h0M607.4 389.5h0M615.7 465.9h0M618.4 451.9h0M603.1 412.7h0M601.8 427.4h0M610.2 385.4h0M606.9 394.7h0M597.8 391.5h0M603.8 390.2h0M595.6 446.8h0M626.4 410.4h0M625.9 418.9h0M617.4 451.2h0M618 412.3h0M609.9 462.1h0M591 393.4h0M594.9 388.7h0M602.7 400.6h0M596.5 437.4h0M616.8 451.5h0M600 389.2h0M583.4 466.8h0M626.9 421.7h0M601.4 393h0M609.7 451.2h0M589.8 402.9h0M623.6 426h0M598.1 399.5h0M590.6 427.1h0M606.1 458.1h0M615 467.2h0M586.8 398h0M622.5 415.8h0M588.1 390.8h0M578.4 468.6h0M595.4 383.5h0M604 411.4h0M601.8 421.7h0M591.9 397.8h0M580.6 456.7h0M599 396.9h0M586.6 469.3h0M604.3 426.1h0M637.4 427.8h0M594.2 398.5h0M591.6 464h0M600.5 416.9h0M611.8 461.5h0M630.7 414.3h0M612.9 406.5h0M602.5 428.8h0M624.4 429.4h0M602.6 455.2h0M606.9 392.9h0M597.1 412.3h0M592.4 412.8h0M588 405.1h0M590.4 383.8h0M604.7 421.3h0M592 425.4h0M588.2 466.3h0M590.7 409.3h0M595.2 456h0M613.3 435.2h0M582.1 460.5h0M605.6 396.5h0M621.3 460.8h0M606.9 427.1h0M620.1 433.1h0M614 441.9h0M605.8 384.8h0M603.5 399h0M601 382.3h0M614.9 452.2h0M578.9 466.7h0M613.6 444.4h0M598.3 461h0M592.2 432.4h0M582.4 453.6h0M592.8 389.7h0M610.5 384.1h0M617.5 436.9h0M603 463.3h0M599.7 401.4h0M583.8 448.3h0M622.8 413h0M590.6 448.9h0M611 434.2h0M593.6 397.8h0M592.1 416.1h0M605.8 450.2h0M589.1 427.2h0M624.2 456h0M614.8 428.2h0M598.6 429.8h0M609 459.9h0M596.3 395.3h0M618.4 456.5h0M589.6 458.5h0M589.9 414.5h0M585 452.6h0M597 425.4h0M607.6 427.6h0M589.4 384.3h0M601.5 389.1h0M598.5 409.4h0M600.3 451.5h0M609.1 389.9h0M616.3 410.5h0M628.1 425.1h0M605.9 458.5h0M603.1 403.5h0M607.9 401.5h0M609.6 400.5h0M595 385.2h0M594.2 385.9h0M626.7 413.7h0M605.9 445.6h0M578.2 461.4h0M594.8 454.3h0M604.2 384.6h0M625.4 454h0M635.6 427.5h0M623.9 422.1h0M601.9 391.8h0M622.8 446.8h0M596.2 441.7h0M584.9 447.2h0M614.9 413.7h0M601.9 410.8h0M621.2 458.9h0M606.1 380.8h0M602.8 437.6h0M605.6 415.2h0M604.8 389.5h0M593.8 461.6h0M588 396.2h0M609.4 439.2h0M610.7 389h0M603 424.1h0M609.2 396.9h0M608.4 384.7h0M615.2 451.4h0M617.8 410.4h0M621 454.4h0M590.4 400.3h0M610.5 428.7h0M622.8 427.5h0M592.6 451.6h0M639.3 431h0M602.8 458.8h0M591.3 450.7h0M593.9 439.3h0M619.7 456.7h0M599.1 389h0M589.5 414.3h0M604 451.9h0M609.7 398.7h0M597.6 463.9h0M593.9 392.3h0M607.1 435.8h0M603.6 435.3h0M607.7 453.5h0M603.6 387.7h0M608.3 423.2h0M601.9 411.8h0M598.6 412h0M624.9 454.8h0M606.7 409.7h0M599.6 434.7h0M615.6 425.4h0M589.3 386.8h0M610.3 447.9h0M603.7 382.1h0M622 400.5h0M589.2 442.1h0M613 428.4h0M618.3 456.3h0M598.3 426.3h0M595.4 410.4h0M625.7 413.3h0M584.7 443.7h0M590.7 415.8h0M608.9 385.2h0M616.2 426.3h0M595.5 461.6h0M622.6 424.7h0M582.6 459.1h0M593.1 414.4h0M587 395h0M587.7 388h0M587.2 393.3h0M587 396.6h0M586.1 401.7h0M587.4 405.4h0M588.5 408.9h0M589.1 415.1h0M587.4 418.7h0M586.8 422.9h0M591.3 430.8h0M592.6 440.9h0M589.2 443h0M584.3 443h0M582.3 448.1h0M581.5 451.9h0M577.4 453.7h0M573.4 461h0M575.2 463.4h0M577.8 473.2h0M594 466.1h0M601 465.2h0M609.3 467.4h0M614.6 467.4h0M617.8 466.4h0M622.8 464.1h0M625.6 461.1h0M623.9 456.2h0M628.8 452.4h0M626.7 448.5h0M628.3 444.7h0M625.4 433.7h0M625.8 429.4h0M629.8 428.1h0M638.1 432.3h0M640.6 433.1h0M642.7 431.7h0M629.1 411.9h0M625.6 410.2h0M622.5 407.1h0M622.4 403h0M621.3 399.4h0M617.5 397.8h0M613.1 396.8h0M611.7 392.4h0M611.6 387.5h0M609.6 382.8h0M607.2 379.4h0M606 378.5h0M600.4 379.5h0M596.5 377.9h0M593 380.2h0M589.7 384.8h0M648.2 459.4h0M655.2 457.2h0M638.1 464.6h0M655.3 460.6h0M639.1 464.6h0M643.3 462.5h0M645.5 463.1h0M661.9 447.3h0M645.8 465h0M650.1 463.4h0M653.9 461.7h0M661.3 458.8h0M663.5 448.7h0M663.8 444.8h0M664.3 441.3h0M660.8 445.3h0M657.7 454.1h0M654.8 456.5h0M652.8 458.5h0M647.1 459.1h0M642.3 461.2h0M638.4 464h0M668.8 435.8h0M699.1 437.3h0M676.9 449.8h0M690.2 446.2h0M697.2 466.9h0M671.6 430.2h0M685.5 443.9h0M672.7 434.8h0M677.4 451.6h0M714.5 445.9h0M684.1 423.4h0M715.1 443.4h0M679.5 450.4h0M683 433.9h0M699.3 461.4h0M718.4 463.9h0M711.8 466.4h0M678.7 439.6h0M677.4 441h0M687.3 466.6h0M695.1 470.3h0M714.4 450.1h0M664.6 429.5h0M710.2 463.7h0M679.9 459h0M715 444.3h0M680.3 439.5h0M684.7 428.4h0M657.7 428.4h0M683.2 428.6h0M695.5 451.4h0M704.9 449.6h0M716.6 451.6h0M681.4 447.8h0M687.7 432.7h0M697.5 470h0M692.4 460.7h0M683.4 435.1h0M685 433.9h0M683.6 423h0M675 445.5h0M696.9 463.3h0M693.2 437.2h0M718 471.6h0M684.3 440.9h0M684.9 435.1h0M653.4 433.9h0M690.3 467.6h0M680.6 433h0M708.5 442.7h0M675.8 437.2h0M680.8 432.2h0M708.9 451.3h0M717.8 460.1h0M694.1 456.2h0M669.2 447.1h0M719.9 463.8h0M672 433.7h0M722.3 449.8h0M711.7 447.2h0M709.7 461.7h0M696.9 445.1h0M697.9 436.2h0M678.1 436.7h0M716.2 468h0M720.9 465.1h0M685.6 437.5h0M683.2 460.8h0M704.5 436.1h0M696.2 448.9h0M690.6 441.6h0M687.7 456.2h0M668.3 441.1h0M696 465.1h0M702.4 451.6h0M687.3 446.4h0M704.2 466.2h0M681 433.4h0M679.8 459.7h0M680 428.5h0M680.9 422.5h0M677.3 453.1h0M689.3 465.8h0M662.4 432.9h0M673.4 432.8h0M665.5 439.2h0M681.4 453.3h0M693.5 457.8h0M675 442.9h0M704.1 463.7h0M697.4 469.9h0M706 452.6h0M684.9 438.5h0M708.9 436h0M717.3 451.2h0M720.5 452h0M690.6 447h0M717 444h0M681.4 425.2h0M686.5 461.7h0M698.3 473h0M692.7 448.6h0M699.2 468.2h0M684.3 459.4h0M702.8 453.4h0M683.5 459.8h0M677 443.5h0M652.5 432h0M671 433.7h0M687.9 454.3h0M679.2 461.3h0M716.5 449.1h0M685.9 456.9h0M713.9 467.2h0M701.4 432.5h0M711.1 436.6h0M666.4 433.8h0M688.2 448.3h0M705.3 471.1h0M671.6 431.4h0M684.4 439.8h0M720 451.7h0M689.5 449.8h0M671.1 441.4h0M685.2 439.8h0M662.4 434.1h0M715.5 448.8h0M711.8 449.7h0M671.9 435.1h0M694.3 450.6h0M717.2 470.1h0M712.2 462.8h0M691.7 434.5h0M700.9 443.9h0M687.8 462.7h0M722.9 459.6h0M699.1 462h0M672.9 441.5h0M689.4 462.2h0M717.8 464.9h0M682.8 437.9h0M699.9 466.6h0M690.5 459.3h0M693.9 460.8h0M701.7 439h0M697.1 471.3h0M691 451.2h0M703.1 464.8h0M672.6 434.9h0M675.7 454.9h0M696.7 456.2h0M684.5 425.4h0M671.2 439.1h0M723.2 457.8h0M686.4 463.7h0M717.3 461.3h0M691.4 452.5h0M698.1 464.8h0M699.7 437.2h0M672.8 442.8h0M686.9 444.3h0M667.1 438.1h0M686.1 449.6h0M702.2 433h0M721.5 467.2h0M705.1 454h0M715.6 467.1h0M670.4 432.5h0M699.4 433.5h0M712.7 452.8h0M660.1 432.9h0M673.4 442.7h0M695.8 448.9h0M652.9 432.7h0M656.6 437h0M659.6 435.7h0M663.2 437.1h0M664 442.1h0M666.6 444.7h0M669.8 449h0M671 455.6h0M674.3 459.2h0M677.5 461.8h0M681.1 465.5h0M683.8 465.7h0M688 469.4h0M693.5 469.6h0M696.4 471.2h0M700.2 474.4h0M705.4 473.6h0M707.8 473.8h0M712.5 473h0M721.4 473h0M723.1 471.4h0M727.7 460.2h0M725 450.6h0M718.9 445.6h0M716.8 441.6h0M714 439h0M710.7 434.6h0M696.7 431.4h0M694.6 430.3h0M687.1 424.2h0M683.8 421.8h0M680.2 422.7h0M678.2 425h0M674.1 429.2h0M670.6 429.5h0M666 429.5h0M660.9 429.5h0M657.9 427.6h0M653.1 429.3h0M649.2 445.8h0M641.7 454.7h0M633.3 442.5h0M627.5 438.3h0M649.2 444.2h0M572.4 461.8h0M566.7 458.6h0M580.3 471.4h0M576.8 468.1h0M574.6 465.1h0M574.4 460h0M570.1 457.3h0M560.8 443.3h0M566.7 440h0M570.8 443.3h0M570.8 448.3h0M566.7 456.7h0M566.7 461.7h0M540.8 433.3h0M576.7 475h0M570 478.3h0M566.7 481.7h0M562.5 487.5h0M566.7 490h0M568.3 491.7h0M565 488.3h0M565.1 500.1h0M561.8 500.9h0M567 501.9h0M564.5 498.9h0M560.7 497h0M555.8 521.7h0M561.7 526.7h0M565 525h0M566.7 530h0M573.3 533.4h0M575.9 534.4h0M578.6 537.1h0M581.9 538.5h0M583.3 541.3h0M586.7 542.1h0M589.7 543.8h0M591.8 545.8h0M594.3 548.2h0M596.2 551.3h0M598.6 552.8h0M720 530h0M723.3 535h0M733.3 537.5h0M738.3 531.7h0M738.3 541.7h0M732.5 555h0M736.7 558.3h0M750.5 559.8h0M747 551.7h0M749.7 556.7h0M754 560.2h0M752.2 560.1h0M747.1 556.1h0M752.3 554.3h0M748.5 558.2h0M747 549.5h0M745.9 544h0M751.1 559.7h0M746.3 550.6h0M749 563.2h0M749.2 551.4h0M742.2 536.3h0M741.1 554.8h0M741.7 534.6h0M741.7 537h0M749.2 547.2h0M746.6 552.3h0M743.7 547h0M745.4 544.1h0M747.8 559.5h0M747.8 548.5h0M751.9 547.7h0M741.9 553.5h0M739.9 543.6h0M751.5 556.8h0M743.5 549.8h0M747.4 561.2h0M745.7 545.9h0M741.3 554.9h0M745.9 561.5h0M739.1 544h0M740.3 536.3h0M738.2 542.4h0M740.2 546h0M742.8 549.8h0M741.8 552.8h0M742.1 557.6h0M745.2 560.1h0M746.4 564.3h0M748.6 569.3h0M752.8 571.6h0M755 576.8h0M757.1 577.6h0M755.1 574.2h0M750.8 571.6h0M750.4 568.6h0M749.4 563h0M753.2 560.5h0M758 561.2h0M759.9 561.1h0M758.1 557.4h0M756.4 552.8h0M754.4 550.2h0M750.9 545.7h0M747.5 543.9h0M745.1 540h0M743.5 535.5h0M740 532.1h0M720 530h0M723.3 535.3h0M733.3 537.5h0M732.5 555.5h0M735 560h0M734.2 563.3h0M737.5 566.7h0M761.7 568.3h0M761.7 571.7h0M775.8 570.8h0M785.8 565.8h0M786.7 568.3h0M785.8 571.7h0M741.7 607.5h0M725.8 586.7h0M743.5 593.3h0M721.8 593h0M737.4 592.3h0M747.5 595.8h0M751.4 594.9h0M755.3 589.6h0M762.3 592.1h0M753.7 590.7h0M770.5 583.5h0M764 583.6h0M753.9 596.5h0M770.7 588.2h0M737.6 600.2h0M761.9 598.4h0M776.3 593.9h0M767.9 596h0M734.9 596.4h0M762.9 589h0M761 587.7h0M761.2 584.1h0M735.5 597.3h0M738.5 592.6h0M724.4 595.1h0M775.9 585.8h0M745.6 593.8h0M744.4 597.7h0M765.3 595.6h0M774.7 594.2h0M725.7 594.9h0M752.1 595.6h0M740.1 593.9h0M720 592.9h0M754.7 589.1h0M781.5 585.6h0M754.8 587.7h0M761.6 587.4h0M762.3 594.3h0M752.6 596.9h0M771.2 586.8h0M772.5 587.8h0M767.6 597.8h0M757 584.8h0M767.5 600.2h0M770.9 594.1h0M740.1 595.5h0M775.3 595.9h0M774.4 594.5h0M765.2 597.9h0M768.8 599.9h0M762.2 592.9h0M771.5 597.7h0M751.2 592.1h0M766.4 603.2h0M753.3 601.3h0M739.9 591.9h0M756.9 585h0M773 590.2h0M735.7 597.7h0M744.6 596.2h0M744.6 596.7h0M776 592.6h0M764.7 597.3h0M766.2 597.4h0M768.4 597.2h0M751.1 600.3h0M759.2 586.6h0M755.2 590.5h0M735.3 596.5h0M753.4 597.9h0M755.3 602.4h0M753 600.2h0M768.6 589.7h0M762.6 600.8h0M728.2 597.3h0M764.9 593.4h0M747.1 592.8h0M777.1 584.5h0M746.1 595.8h0M769 599h0M773.6 593.1h0M759 596.5h0M765.2 589.5h0M754.6 586.4h0M754.7 595.2h0M759.5 585h0M733 597.6h0M781.2 589.3h0M764.6 587.3h0M756.5 585h0M767.1 586.5h0M735.1 596.9h0M774.3 593.9h0M772.7 598.2h0M716 590.7h0M718.1 594h0M722 594.7h0M727.1 597.7h0M729.6 599.9h0M734.3 600.7h0M738.6 599.7h0M744.6 601.6h0M747.6 603.2h0M752.5 603.2h0M757.7 604.9h0M762.2 605.4h0M765.4 603.1h0M771 600.7h0M774.8 599.2h0M778.3 597.6h0M780.8 592h0M781.8 587.9h0M784 585.2h0M783.9 581.4h0M779.8 582h0M775.1 581.2h0M771.9 579.8h0M766.8 580.6h0M763.5 583.9h0M758.1 585.2h0M755.4 586.8h0M749.9 589.1h0M747.8 592.1h0M743.6 592.2h0M737.6 590.5h0M733.1 592.3h0M729.6 593.8h0M725 594.1h0M719.9 591.5h0M716.8 591.2h0M713 587.1h0M910.5 541.8h0M909 545.1h0M907.1 547.3h0M905.8 551.1h0M903.9 553.3h0M902.7 556.7h0M901.7 559.8h0M900.2 563.1h0M898.8 565.3h0M896.8 568.3h0M896.9 571.5h0M896.6 575.1h0M895.8 578.2h0M897.5 587.7h0M912.5 679.1h0M927.2 684.5h0M937.2 667h0M956.8 664.7h0M961.7 644.8h0M1061.3 709h0M936.2 756.1h0M980.2 732.4h0M993.7 741.9h0M929.9 736.2h0M987.6 648.2h0M998.8 637.7h0M1006 770.8h0M932.4 715.8h0M924.2 780h0M1004.4 708.7h0M982.2 665.3h0M958 696h0M1022.5 752.7h0M921.5 753.1h0M904.9 729.4h0M960.7 718.5h0M980.6 703.5h0M976.5 694.6h0M983.7 672h0M963.6 711.3h0M1031.5 723.7h0M1014 725.1h0M935.1 768.8h0M952.3 744.9h0M922.9 744h0M999.7 625.2h0M982.5 712h0M979 759.8h0M960.8 749.4h0M1006.4 630.2h0M1018 706h0M983.9 694.5h0M1054.1 694.1h0M971.2 698h0M922.1 725.7h0M951.3 701.5h0M1018.2 676h0M1003.2 756.6h0M1029 729.3h0M912.6 772h0M974 777.9h0M976.2 707.3h0M1032.3 667.2h0M925 744.5h0M943.9 767.9h0M944.4 777.6h0M1020.9 660.5h0M910.1 739.9h0M961.4 689.1h0M1031.5 688.1h0M944.5 737.7h0M1006 736.1h0M967.3 752.8h0M931.6 724.7h0M1038.9 737.9h0M991.1 740.3h0M1011.5 727.6h0M971.8 690.5h0M1058.9 655.9h0M1008.3 711.5h0M1005 733.9h0M1017 689.6h0M1020 690.6h0M957.9 750.9h0M1010.4 651.8h0M964.9 711h0M981.4 702.5h0M959.3 756.9h0M984.5 667.3h0M983.3 679.1h0M1007.6 687.7h0M1015.6 701.7h0M977.7 637.6h0M943.9 728.3h0M999.4 709.1h0M1000.9 763.6h0M944.9 749h0M997.8 676h0M975.4 706.3h0M1025 672.2h0M1052.9 682.6h0M980.6 749h0M940.7 733.6h0M1005.8 687.8h0M971.1 774.2h0M1018.6 738.8h0M1009.1 727.9h0M1048.8 656.4h0M1032.2 689.2h0M988.3 722.2h0M910.6 738.2h0M983.9 738.8h0M971.9 735.8h0M982 648.5h0M936.7 742.4h0M992.2 626.8h0M1001.5 753.6h0M976.9 712.8h0M1029.9 660.7h0M913.5 709.7h0M947.3 771h0M984.6 660.1h0M995.1 700.3h0M1060.8 662.7h0M990.4 761h0M945.6 721.5h0M985.6 717.5h0M1041.4 647.7h0M911.1 767h0M1007.2 728.4h0M997.5 656.9h0M984.9 721.4h0M941.5 767.4h0M998.3 705.3h0M1055 656.2h0M976.7 667.2h0M915.1 778.5h0M994.4 693h0M961.9 716.6h0M993.1 630.7h0M908.7 713.9h0M1020.1 705.4h0M981.8 636.2h0M1015.6 696.7h0M1013.2 663.7h0M998 766.6h0M995.3 742.7h0M970 735h0M1011.9 745h0M959.3 680.3h0M916.3 738.8h0M1002.1 708.3h0M985.9 759.9h0M947.3 735.1h0M1053.9 658.6h0M955 670.6h0M978.8 757.7h0M940.5 756.9h0M1002.9 643h0M988.3 735.7h0M1012.5 743.9h0M930.4 725.8h0M933.7 748.9h0M1003.3 677.9h0M1021 669.8h0M1020.6 665.6h0M967.6 703.7h0M987.5 690.9h0M987.8 681.8h0M1035.7 701.5h0M992.8 674.1h0M983.2 636.6h0M959.1 708.6h0M998.5 761.8h0M999 686h0M1000 669.9h0M923.9 740.9h0M979.5 691.2h0M1051.5 679.6h0M964.2 677.6h0M965.7 685.3h0M919.6 739.3h0M1035.1 723.1h0M954.9 726.1h0M959.7 696.5h0M1008.4 761.9h0M1038 681.3h0M1019.7 749.5h0M1031.6 701.6h0M973 765.8h0M1004.8 707.7h0M940.5 735.7h0M908.4 725.4h0M1034.4 698h0M982.6 778.7h0M994.2 715.9h0M979 736.3h0M925.8 738.5h0M964.4 763.3h0M942.6 708.6h0M967.9 754.6h0M990.3 746.3h0M940.9 755h0M1031.7 737.6h0M962.1 682.7h0M913.8 744.2h0M912.7 725.6h0M956.5 733.3h0M990.4 645.5h0M1024.7 649.4h0M1047.7 709.8h0M1025.8 640.3h0M1004 665.4h0M1010.7 733.6h0M1004.5 691.2h0M942.7 693.1h0M1011.9 744.7h0M1000 737.5h0M949.7 767h0M971.8 766.9h0M997.4 729.7h0M990.4 698.2h0M966.2 692h0M1034.1 698.1h0M954.1 756.8h0M907.5 738.5h0M1040.2 664.7h0M936.4 746.6h0M987 682.1h0M972.5 712.5h0M982.4 755.3h0M964.6 747.4h0M988.9 678.6h0M1062.2 678.2h0M938.8 687.1h0M1009.1 736.3h0M1032.1 700.6h0M1002.9 636.1h0M1009 752.8h0M1044.4 689h0M983.4 761.7h0M1052.8 702.8h0M979 778.1h0M1009.5 640.9h0M921.4 752.6h0M998 711.5h0M1021.5 744.8h0M971.6 773.1h0M954.7 750.4h0M1016.2 685.4h0M949.4 765.1h0M1042.2 654.9h0M1008.7 730.8h0M976.5 723h0M972 653.9h0M982.6 734.7h0M951.4 766.9h0M1018.7 701.3h0M962.8 709.9h0M942.3 696.1h0M1044.7 720.9h0M1013.3 719.3h0M1002.9 771.5h0M972.1 763.9h0M957.5 766.5h0M991.6 701.5h0M979.6 710.5h0M1030.3 683.7h0M953.4 726.6h0M978 723.7h0M937.1 725h0M1020 759.2h0M1035.6 733.3h0M1040.9 728.9h0M1048.3 710.1h0M1031.1 709.1h0M1045.9 645.8h0M950.3 723.5h0M956 776.3h0M968.7 648.5h0M933.4 702.8h0M927.2 750.6h0M1034.1 725.1h0M924.3 752.7h0M994.3 711.5h0M1052.9 667.3h0M1037.7 729.1h0M988.8 709.6h0M925.1 734.5h0M969.6 758.9h0M990 707h0M1018.7 725.6h0M997.2 761.8h0M1016.5 727.9h0M927.6 715.7h0M925.7 711.8h0M974.7 719.9h0M1049 703.2h0M994.5 752.6h0M947.9 765.2h0M1017.2 732h0M1021.7 656.4h0M1022.6 732.3h0M1029.6 707.7h0M1045.8 718.3h0M1026.4 727.6h0M960.9 672.3h0M1007 726.2h0M987.3 641.5h0M1040.8 679.7h0M909.6 709.8h0M994.6 688.2h0M915 769.3h0M1043.3 709.8h0M1041.8 741.8h0M968.5 706.8h0M965 671.4h0M974.6 655.2h0M1034.6 646.4h0M911.3 720.5h0M1001.7 718.3h0M980.7 747.6h0M1053.5 710.1h0M1041.4 728.2h0M1025 697.7h0M1036.2 690.5h0M1056.2 653.9h0M913.3 732h0M1042.5 723.4h0M1020.8 681.1h0M984.9 748.6h0M908.3 727.2h0M1008.8 689.2h0M936.9 782.2h0M916.2 738.4h0M1000.2 690.2h0M966.1 766.8h0M991.8 686.2h0M1012.1 631.5h0M1020.7 753.7h0M935.2 784.4h0M1024.4 745.3h0M944.1 710.5h0M1039.6 737.4h0M968.2 675.3h0M973.4 744h0M960.8 758.1h0M998.6 681.4h0M992.1 675.9h0M1005.7 762.2h0M985.7 768.6h0M952.5 664.8h0M928.9 726.7h0M1000 741.9h0M989.8 714.7h0M976.7 697.8h0M1042.3 695.7h0M972.4 731.8h0M974.2 650.9h0M926.2 760.2h0M961 737.1h0M988.8 710.8h0M970.8 657.7h0M949.2 733.7h0M965.5 659.4h0M984.4 731.7h0M917.6 784.3h0M984.9 739.2h0M937.7 727.4h0M926.6 753.9h0M972.6 762.1h0M975.4 776.3h0M975.7 691.8h0M917.2 786.2h0M925 761.8h0M976.4 721.5h0M957.3 720.1h0M984.1 769.5h0M961.6 773.2h0M1051.8 681.5h0M975.3 728h0M1001.8 734.9h0M1030 667.2h0M1004.7 635.6h0M998.7 711.3h0M964.1 686.9h0M987.7 683.6h0M1011 685h0M1025.3 704.6h0M1024.3 682.5h0M1022.7 761.7h0M994.5 759.3h0M910.4 741.2h0M1030.3 650.3h0M969.6 720.6h0M1052.7 692.9h0M966.2 651.5h0M973.3 762.3h0M1004.9 737h0M1043.5 691.3h0M1020.1 648.1h0M982.2 766.2h0M1044.2 645h0M944.4 718.5h0M953.8 725.4h0M982.7 757.1h0M912.2 737.8h0M965.8 770.7h0M922.1 729.3h0M1036.1 716.4h0M919.3 757.8h0M967.4 654h0M1019.2 640h0M909.2 727.4h0M969.2 745.9h0M1006.9 671.8h0M962.3 718h0M940.1 671.1h0M1028.7 753.2h0M981.2 670.2h0M1011.2 765.4h0M1015.9 732.7h0M1002.5 749.1h0M985.2 692h0M997.5 744h0M1003.7 725.7h0M972.1 777.2h0M1011 665.2h0M951.5 776.5h0M926.9 763h0M1025.8 737.9h0M951.8 704.6h0M1056.8 658.8h0M977.4 698.7h0M1051.8 667.6h0M984.4 768h0M931 720.7h0M970.2 679.2h0M977.5 695.4h0M1015.2 666.2h0M936.4 714.8h0M1034.3 730.6h0M956.1 732.7h0M962.4 699.6h0M996.3 627.4h0M996.2 671.6h0M971 709.3h0M946.2 742.8h0M919 783.7h0M972.1 768.3h0M946.7 760.2h0M1030.3 720.5h0M936.4 764.4h0M994.1 741.7h0M1012.1 766.9h0M975.9 767.5h0M1033.4 699h0M995.9 687.4h0M1034.2 647.3h0M971.7 732h0M972 755.8h0M956.2 763.5h0M987 688.6h0M1004.1 626.5h0M964.7 763h0M1046.5 727.9h0M987.6 696.4h0M986.6 761.9h0M961.3 742.9h0M1029.5 715.6h0M915.8 762.8h0M937.3 763.6h0M973.3 775h0M1055 649.3h0M923.2 769.9h0M969.2 728.1h0M965.7 732.4h0M985.2 745h0M1021.4 695.5h0M967.9 780.8h0M930.7 731.6h0M944.5 752.8h0M942.8 751.8h0M1056.4 700.2h0M970.8 674h0M994.5 711.2h0M904.4 729.3h0M1006.5 738.4h0M1024.4 646.6h0M927.4 728.8h0M1021.7 709.5h0M995.8 687.4h0M987.5 655.9h0M1015.5 682.8h0M957.4 768.8h0M1030.5 668.7h0M922.8 756.8h0M967.1 737.7h0M976.2 744.5h0M978 758.7h0M1028.1 670.5h0M1037.1 677h0M934 784.8h0M969.7 706h0M907.5 723h0M974 755.6h0M982.3 767.1h0M1027.8 739.6h0M983.2 636.7h0M1025.8 718.3h0M1047.3 716.4h0M937.8 770.8h0M974.5 644.7h0M925 742.2h0M1033.1 712.8h0M991.1 647.4h0M1021.1 743.9h0M968.3 770.9h0M901.7 715.4h0M918.5 775.3h0M910.1 743.1h0M1044.2 678.7h0M952.9 776.5h0M1031.1 644.6h0M988.9 749.7h0M913.1 740.6h0M994.8 629.3h0M947.5 729.7h0M1015.9 736.3h0M986.1 653.2h0M1032.6 718.7h0M1022.1 717.4h0M1009.2 706.7h0M997.2 682.2h0M996.9 713h0M970.1 695.8h0M978.1 776.7h0M992 681.2h0M958.9 764.2h0M988.7 734.7h0M938.8 701.3h0M952.9 770.8h0M965.3 692.8h0M978.2 736.9h0M915.7 725.7h0M1007 688.7h0M962.4 677.3h0M1029.9 650.5h0M929.6 772.5h0M1013.5 753.8h0M998.9 646h0M1028 661.7h0M922.2 719h0M921.9 775.3h0M998.7 767.7h0M1026.5 736.6h0M954.7 737.9h0M1050.5 700.8h0M920.8 776.3h0M1037.2 645.2h0M909.4 717.2h0M1002.5 771.2h0M1049.1 676.1h0M973.5 777h0M1022.3 714.6h0M1046.9 718.5h0M1002.5 704.5h0M1023.9 655.5h0M984.7 721.3h0M969.2 662.9h0M914.8 737h0M983.6 654.9h0M1002 745.9h0M925.4 765.4h0M959.1 713.1h0M911.9 779.6h0M990.5 680.8h0M942 762.9h0M1007.3 693.9h0M977 718.4h0M961 770.2h0M925.6 757.7h0M1022.6 699.6h0M926.1 733.1h0M989.3 763.9h0M922.2 775.5h0M939.4 744.1h0M1012.2 629.3h0M974.1 646.8h0M942.2 761.8h0M981.2 769.1h0M932.8 738.4h0M1051.7 648.5h0M974.5 703.2h0M1020.3 727.5h0M1036.3 674.6h0M1009.1 628.2h0M1023 739h0M973.5 731.5h0M972.8 709.4h0M953.2 782.7h0M980.4 723.2h0M1036.5 650.4h0M1042.8 738.7h0M1000.7 630.4h0M938 738h0M1030.9 701.3h0M1000.6 698.4h0M1017 675.2h0M1030.5 661.7h0M969.1 771.8h0M934.9 770.3h0M954.9 691.1h0M1022.8 737.9h0M983.7 681.7h0M971.5 648.4h0M999.3 639.6h0M971.3 693h0M1028.7 700.2h0M923.4 754.7h0M922.2 747.3h0M956.9 726.8h0M1002.2 774.6h0M987.3 771.9h0M1043.1 681.3h0M989.9 738.1h0M964.3 706.4h0M1025.4 763.6h0M996.7 767.1h0M1002.4 747.7h0M1004.6 756.4h0M964.2 705.7h0M937.6 769.7h0M966.1 775.5h0M916.8 730.9h0M1023.6 740.8h0M967 693.5h0M1031.4 720.2h0M965.1 699.2h0M929.1 760.1h0M993.6 763h0M947.2 762.4h0M1013.2 739.9h0M908.7 727.9h0M1012.9 657.7h0M930.6 719.2h0M914 723.6h0M960.7 678.1h0M1049.6 704.9h0M1004.2 741.2h0M992.3 771.2h0M982.1 738.8h0M1024.9 663.7h0M918.3 765.5h0M996.5 750.8h0M959.8 770.1h0M986.4 742.4h0M903.5 727.5h0M980.2 693.9h0M947.7 728.7h0M1019 726.9h0M941.8 706.4h0M982.6 647.8h0M928.2 748.2h0M989.1 632.2h0M1040.3 708.3h0M942.3 733h0M975.8 703.2h0M1033.4 707.9h0M974.5 708.2h0M950.6 761.4h0M932.5 759.2h0M932.2 774.8h0M1029.4 673.5h0M965.1 724.3h0M1017.1 670.9h0M996.1 696.2h0M928.5 757.2h0M984.3 758.5h0M1012.2 691h0M966.2 729.8h0M970.7 695.2h0M968 730.8h0M963.8 699.6h0M965.7 754.1h0M1004.8 693.9h0M999.1 704.6h0M1058.4 684.6h0M976.5 671h0M920.6 782.1h0M956.1 772h0M982.1 742.9h0M955 764.5h0M943.4 763.3h0M961.2 714h0M1015.1 733.3h0M1008.4 724.2h0M975.7 699.9h0M1032.1 702.6h0M960.3 751.5h0M959.7 761.3h0M997.6 715.1h0M986.8 691.9h0M997.5 759.4h0M910.1 743.4h0M1034.1 687.3h0M948.8 769.8h0M1030.8 689.2h0M930 775.2h0M1027.7 683.6h0M1000.7 752.6h0M1024.4 700.4h0M982.8 678.2h0M1012.4 750.6h0M968.7 682.1h0M965.4 743.2h0M1018.3 744.5h0M1056 688.3h0M938.8 781.3h0M965.5 774.6h0M918.3 768.8h0M1000.8 721.3h0M932.6 770.4h0M1027 661.9h0M967.5 766.2h0M1012.8 666.2h0M965.8 695.8h0M992.7 697h0M993.9 639.2h0M971.9 664.3h0M1039.4 675.6h0M999.7 737.5h0M1033.5 662.9h0M966.6 707.6h0M1040.4 656h0M952.8 744.3h0M991.3 660.9h0M961.7 715.7h0M1001.6 760.2h0M937.2 753.7h0M1017.7 723.2h0M946.7 752.8h0M1037.1 715.3h0M995.5 671.3h0M941.1 762.7h0M971.9 667.2h0M970.7 704.6h0M985.2 702.6h0M934.7 771.2h0M979.5 717.5h0M1021.1 728.3h0M997.8 708.9h0M1017.2 650h0M978.9 687.5h0M949.7 748.1h0M994.1 691.4h0M919.2 773.9h0M908.1 728.8h0M991.6 755h0M969.1 645.6h0M921.3 764.7h0M1027.3 699.7h0M1004.9 709.7h0M1026.7 739.8h0M1049.8 699.4h0M989.5 724.3h0M954 773.7h0M999.3 697.8h0M995.1 661.9h0M974.2 725.2h0M1050.7 658.8h0M980.9 733.2h0M986.5 635.9h0M1033.6 660.8h0M964.2 666.8h0M984.9 760.2h0M1005.8 643.3h0M1021.8 716.1h0M1022.6 700h0M959.2 742.4h0M949.6 708.2h0M984.2 709h0M1050.4 676.8h0M1036.5 672.2h0M963 690.5h0M933.6 723.9h0M943.5 748h0M962.7 761.2h0M1037.1 710.7h0M1000.9 709.4h0M1025 684.8h0M1011.4 746.9h0M969.3 687h0M997.8 720.7h0M941.2 755h0M910.5 734.8h0M979.1 759.7h0M1007.2 646.6h0M1030.5 719.8h0M926.3 760.1h0M1001.9 735.2h0M947 721.9h0M1036.5 728.2h0M933.2 740.6h0M1024.1 738.1h0M1058 665.2h0M1004.4 630.3h0M938.1 759.6h0M1030.1 724.4h0M998.8 757.1h0M999.4 668.2h0M993.8 652h0M1036.5 685.4h0M953.7 761.2h0M1015.2 661.7h0M948.7 746.2h0M1016.2 649.8h0M1031.3 721.4h0M988 738.4h0M1032 729.8h0M989.1 642.2h0M1022.8 737.9h0M980.4 774.7h0M1011.6 687.4h0M973 779.8h0M948.7 695.4h0M996.3 736.7h0M932.6 733.6h0M940.2 754.8h0M1016.5 760.5h0M997.4 735.4h0M1030.7 664.1h0M976.2 678.1h0M985.4 723.2h0M961.2 708.1h0M1024.9 697.5h0M993.8 768.5h0M954.8 729.5h0M919.7 780.7h0M990.2 723.8h0M989.1 775h0M948.3 746.8h0M988.6 695.9h0M931.8 770.8h0M1026.9 730.3h0M933.7 716.2h0M968.6 735.9h0M1005.5 739.1h0M996.5 697.8h0M933 734.9h0M997.9 752.6h0M950.3 772.3h0M925.3 728.6h0M912.1 745.8h0M969 747.9h0M915.2 774.6h0M974.1 752.5h0M976.7 776.9h0M1047.7 647.2h0M936.9 714.6h0M988.3 690.2h0M1026.4 717.9h0M912.8 782.3h0M1053.2 690.6h0M944.2 741.7h0M935.2 773.9h0M973.1 652.9h0M1047.9 660h0M962.2 720.6h0M1028.1 724.1h0M914.6 755.3h0M971.3 779.7h0M997.7 628h0M990.5 685.8h0M978.4 775.4h0M918.5 754.5h0M952 753.5h0M997.8 772.2h0M967.2 725.9h0M1055.7 664.5h0M982.1 677.4h0M1036.6 704.4h0M964.4 762.6h0M961.7 755h0M1021.7 695.8h0M998.3 763.8h0M935.1 782.2h0M944.5 690.7h0M990.5 643h0M952 740.3h0M974.2 695.4h0M1038.8 744.6h0M1026.7 731h0M917.4 737.4h0M1022.5 741.4h0M986.7 714.8h0M1049.7 707.2h0M1021.9 718.5h0M918.2 749.9h0M965.2 719.4h0M1039 729.7h0M1003.4 735.2h0M944.8 669.6h0M1013.4 748.1h0M928.9 763.6h0M996.1 734.3h0M968.1 753h0M983.2 672.3h0M1015.1 712h0M965.5 682.3h0M972.5 751.6h0M1001.9 694.2h0M996.7 682.3h0M982.9 779.4h0M983.2 744.5h0M964.4 686.6h0M1038.8 708.1h0M964.7 731.9h0M1015.6 703.7h0M964.9 697.8h0M993.6 749.6h0M1027.2 744.5h0M997.7 724.3h0M991.1 704.9h0M1043.6 661.2h0M1029.1 734.2h0M952.4 775.2h0M1014.3 721.5h0M932.9 716.6h0M999.1 727.7h0M972.1 760.8h0M986.3 778.1h0M915.5 716h0M921.7 741.7h0M967.6 752.1h0M940.6 746.1h0M1013.9 766.5h0M1036.4 689.8h0M975.1 715.6h0M986.8 747.5h0M949.3 779.2h0M925.9 730.6h0M946.7 769.5h0M963.5 716.4h0M1058.3 654.1h0M964.7 697.2h0M969.8 757.7h0M975.3 739.9h0M979 775.3h0M1012.9 690h0M975.2 775.5h0M1010.7 720.9h0M977.2 697.5h0M1012.7 656.7h0M937.8 780.4h0M1018.4 751.7h0M969.1 642.7h0M1005.6 735.5h0M1004 751.4h0M998.4 646.1h0M1034.7 681.1h0M975.1 743.1h0M927.1 724.1h0M931.4 777h0M1052.7 656h0M1056.6 659.4h0M970.3 774.5h0M958.9 758.4h0M1023.3 686.1h0M946.9 777h0M1057.2 673h0M979 633.1h0M943.8 712.3h0M965.9 682.8h0M1009.4 745.3h0M1034.2 643h0M989.5 768.1h0M941.5 775.1h0M975.7 692.4h0M970.6 685.1h0M1008.8 704.7h0M1028.7 685.8h0M962.4 691.5h0M925.9 775.5h0M1044.3 701.2h0M979.5 691.3h0M995.5 766h0M1028.5 756.1h0M924.2 723.4h0M1019.7 633.4h0M1019.2 752.7h0M1001.8 732.5h0M1002.9 723.9h0M947.1 741.1h0M1056.4 658h0M920.9 759.6h0M955.1 744.3h0M1015.1 682.1h0M972 689.9h0M969.9 642.9h0M925.2 717.5h0M1009.7 689.1h0M971.1 775.1h0M948.3 753.9h0M963.7 762.8h0M1031.4 701.1h0M1037.7 726.3h0M1020.1 638.6h0M1027.3 741.9h0M1005 684.4h0M965.1 773h0M1002.3 701.7h0M995.6 767.3h0M921.2 749h0M945.2 775.4h0M963.6 750.2h0M1051.5 697.4h0M943 707.1h0M920.9 732.9h0M925.9 755.2h0M917.9 761.7h0M1013.6 646.6h0M1007 710.1h0M999 740.1h0M991.6 747.6h0M962.5 748.3h0M919.1 751.3h0M1028.5 725.6h0M1030.9 723.1h0M967.7 732.3h0M989 645.4h0M990.7 645.6h0M999.6 738.3h0M1015.1 699.6h0M1054.8 683.3h0M927.9 741.7h0M989.6 737.8h0M938.3 724.2h0M945.2 754.5h0M935.4 730.2h0M988.6 693.7h0M995.5 734.5h0M1030.9 672.3h0M972.2 751.4h0M995.9 630.9h0M932.8 784.3h0M978.2 644.8h0M1033.8 739.3h0M966.1 713.3h0M997.4 697.6h0M991.2 742.6h0M985.2 722.1h0M977.7 765.6h0M951 714.7h0M983.6 687.8h0M996.5 714.2h0M977.3 733.9h0M1022.5 706.1h0M1013.5 752.1h0M918.7 720.5h0M1055 708.4h0M927.6 750.9h0M943.5 709.7h0M923.6 722.1h0M1030.5 669.9h0M1010.9 706.7h0M997.2 725.1h0M913.6 734.3h0M956.8 699.5h0M1003.7 654.5h0M1014.4 732h0M969 720.8h0M967.1 718.8h0M1041.1 667.1h0M1057.1 668.9h0M986.7 740.1h0M976.5 778.3h0M982.4 748.5h0M998.8 636.9h0M1024.8 668.9h0M1021.6 642.6h0M978.5 672h0M1000.9 715.1h0M981.9 738.5h0M946.8 784.1h0M1028.7 667.6h0M993 702.9h0M967.4 778.1h0M969.8 769h0M979 692.7h0M987 737.5h0M1014.4 672.2h0M967.2 683.1h0M968.4 708.8h0M969.1 697h0M1007.5 711.1h0M927.1 727.7h0M977 737.7h0M917.9 729.7h0M992.9 678.1h0M1034.8 642.6h0M995 630.5h0M1012.5 734.7h0M1043.2 657.4h0M1006.5 640.5h0M976.7 736.1h0M922.3 749.3h0M1038.4 650.8h0M966.6 748.9h0M939.1 762.8h0M990.7 718h0M990.9 641.3h0M967.8 709.4h0M1044 668h0M1017.4 693.3h0M1012 751.1h0M947.8 726.9h0M949.4 744.6h0M1027.4 736.8h0M1039.1 676.7h0M966.2 780.6h0M953.8 775.6h0M1003.6 687.9h0M983.4 778.1h0M1043.7 738.8h0M984.5 669.8h0M1043.9 682.5h0M991.1 746.1h0M923.3 743.6h0M1035.7 743.7h0M960.5 744.1h0M1002 661.1h0M932.1 761.9h0M907.4 717.7h0M1046.1 661.8h0M967 654.7h0M1040.1 694.4h0M945.9 736.5h0M1007.6 673h0M934.6 744.6h0M948.2 767.8h0M1042.2 704.9h0M1021.6 710.4h0M976.3 655.8h0M949 721.7h0M962.7 748.4h0M1050.6 725.4h0M991.9 702.3h0M998.4 702.7h0M1037.3 686.7h0M952.6 741h0M986.4 689.5h0M1010.1 698h0M1025.7 691.8h0M915.1 739.7h0M983.5 680h0M1024.8 733.4h0M962 751h0M989 775.7h0M999 719.4h0M970.5 686.1h0M915.9 744.5h0M1040.4 656.9h0M985 730.6h0M1022 712.9h0M975 719.5h0M999.8 655.8h0M1025.7 751.7h0M988.5 690.1h0M974.7 744.5h0M968.1 709.5h0M1012.8 714.1h0M915.7 754.5h0M995.8 722.8h0M1024.2 695.7h0M992 708.8h0M934.4 720.6h0M978.2 748.5h0M972.1 759.4h0M946 735.8h0M1035.7 730.6h0M962.4 689.7h0M987.2 773.1h0M998.6 737.1h0M969.3 715.5h0M971.3 690.8h0M1033.5 710.7h0M960.4 766.4h0M967.3 711.7h0M1010.9 711.5h0M1019.3 670h0M994.1 650.2h0M956.4 698.2h0M974.6 719.6h0M1059 652.9h0M1031.6 692.4h0M985 631.7h0M1012.8 694.4h0M931.7 777.1h0M1036.2 707.1h0M994.6 758.5h0M935.6 736.7h0M1007.6 680.4h0M1028.9 660.7h0M981.4 688.5h0M965.1 757.5h0M1038.9 665.2h0M994.1 727.5h0M913.5 714.2h0M982.5 766.9h0M981.5 767.8h0M979.1 683.2h0M978.9 753h0M905.2 725.5h0M1051.1 694.2h0M996.5 677.7h0M1025.9 737.2h0M989.9 720.3h0M932.2 778.6h0M1017.5 645.3h0M978.3 738.2h0M963.5 741.1h0M985.8 666.2h0M1017.8 746.6h0M994 670.6h0M986.4 724.9h0M942.5 732.6h0M998.7 706.2h0M981 705.8h0M1022.8 694h0M952.3 736.2h0M939.8 743.8h0M970.3 723.9h0M916.7 734.1h0M941.4 728.6h0M1020.1 696.7h0M1000.5 649.8h0M993.8 637.7h0M925.3 777.4h0M968.6 770.2h0M937.8 771.2h0M949.9 762.2h0M976.1 690.9h0M969.6 693h0M942.9 670.8h0M941.5 767.7h0M982.2 709.3h0M979.8 719.6h0M1033.2 700.7h0M931.4 758.4h0M992 699.6h0M994.6 704.7h0M1008 683.3h0M946.7 761.6h0M920.9 776h0M1044.5 710.1h0M1017 734.9h0M1010.4 745.4h0M1044.5 730.2h0M941.9 732.5h0M959.9 724.5h0M975.3 725.6h0M998.6 726.3h0M951.1 750.7h0M1004.2 721.3h0M913 721.8h0M1002 651.9h0M1012.2 684.4h0M988.2 691.9h0M994.6 734.3h0M967.8 739.8h0M947.5 725h0M986.7 754.2h0M931.1 760.9h0M1059 681.1h0M1003.1 690h0M929.9 752.5h0M1019.6 763h0M932.8 784.2h0M926.3 780.5h0M997.5 649.5h0M930.5 726.8h0M1040.8 685.2h0M1000.6 764.1h0M1035.2 692.4h0M1015.7 690.7h0M974.3 778.4h0M919.3 784.6h0M915.3 754.9h0M1025.5 737.1h0M985.1 670.3h0M945.3 705.2h0M985.9 722.5h0M928.7 752.3h0M908.6 722.9h0M1007.5 761.8h0M945.6 702.9h0M970 728.4h0M998.7 709.1h0M942.3 763.5h0M991.7 646.8h0M1006.5 645.1h0M944.2 773.2h0M987.5 778.9h0M1036.7 722.9h0M986.9 692.8h0M1025.7 739.5h0M1028.9 751.2h0M1061.2 680.8h0M998.8 731h0M1015.3 725.6h0M977.4 652.8h0M935 745h0M1007.5 737h0M974.7 742.3h0M953.6 761.1h0M953 747h0M1014.4 744.2h0M992.9 717.1h0M972.3 779.5h0M979 640h0M1001.9 670.7h0M924 771.2h0M949.8 779.1h0M1001.2 769.8h0M929.3 769.9h0M936.5 736.5h0M925.9 753h0M963.2 702.5h0M1018.7 754.7h0M1024.6 756.3h0M1008.7 702.7h0M959.1 763.1h0M998 751.7h0M983.9 748.3h0M1025.1 763.2h0M969.1 745.4h0M941.7 682.3h0M1043.6 714.7h0M990.2 760.8h0M943.8 761.3h0M996.2 701.3h0M989.7 657.4h0M926 727.2h0M993.4 713.5h0M959.1 771.9h0M922.3 765.7h0M913.9 722.1h0M1004.4 771.8h0M922.9 720.6h0M1006.9 744.7h0M1058.8 678.8h0M944 726.7h0M924.1 736.2h0M1042.5 732.4h0M916.6 744.6h0M1051.4 661.5h0M1050 651.4h0M969.8 681.9h0M936.2 769.3h0M1056.9 667.5h0M1002.9 686.8h0M940.3 747.7h0M1012.7 642.3h0M1025.8 651.9h0M992.1 734.8h0M964.1 751.2h0M1009.9 695.3h0M925 732.3h0M986 682.6h0M1013.1 709.7h0M976.2 748.7h0M989 741.2h0M930.4 764.6h0M1039.6 726.3h0M973.8 762.6h0M982.8 667.8h0M970.5 779.2h0M974.2 744h0M970.2 674.7h0M979.8 701.7h0M996.8 667.3h0M987.7 750.7h0M1051.4 681.5h0M1015.4 717.5h0M1022.9 729h0M935.7 784.3h0M916.3 721.8h0M971 746.4h0M999.5 696.9h0M927.8 721.4h0M1014.5 711.5h0M1017.5 723.8h0M967 686.3h0M1004 718h0M1015.1 685.3h0M953 713.3h0M1040.5 655.6h0M987.2 760.5h0M992 703.3h0M997.2 682.3h0M918.3 784h0M986.4 677.3h0M1008.8 632.7h0M1000.3 701.9h0M991 695.6h0M923.9 715.3h0M1014.7 681.7h0M1046.5 719.7h0M947.6 704.8h0M917.9 748.7h0M1008.8 680.7h0M973.2 742.4h0M995.6 670.5h0M1020.2 659.4h0M1020.4 687.3h0M950 737.9h0M980 680.2h0M1022.6 752.9h0M1005.7 699.5h0M937.5 709.6h0M962.8 696.6h0M1009.9 643h0M939.8 727.5h0M1007.1 747.7h0M948 776.9h0M1054.3 674.6h0M992.5 704.8h0M1033.2 706.7h0M1042 712.8h0M1054.9 693.4h0M1006.9 686.9h0M1028.8 707.6h0M1013.3 747.8h0M982.2 705.9h0M1015.7 712.3h0M906.3 726.3h0M910.6 744.2h0M968.5 757.5h0M981.1 636.4h0M1027.9 724.5h0M1007.9 652.5h0M1036.6 732h0M1058 658.7h0M984.7 654.1h0M948.5 766.1h0M977.3 758.8h0M1017.7 692.9h0M1005.3 738.2h0M1004.1 630.3h0M998.3 661.3h0M1036.6 735.5h0M969.5 664.3h0M1016.5 757.9h0M1023.5 703.7h0M938.7 762.5h0M984.4 723.9h0M941.4 747.7h0M982.4 741.6h0M982.8 747.2h0M1001.4 747.5h0M979.9 775.2h0M979 778.2h0M934.5 778h0M1010 724.8h0M957.8 699.4h0M1016.4 752.2h0M981.8 717.1h0M924.8 739.5h0M1035.9 655.1h0M959.5 720.3h0M963.3 773.9h0M948.8 701.6h0M981.9 693.1h0M1013.7 696.8h0M999.1 744.2h0M951.6 764.1h0M1033.6 638.2h0M941.8 717.6h0M1005.8 718.8h0M1045.4 698.7h0M994.1 698.4h0M909.5 710h0M1035.2 692.6h0M1003.2 761.5h0M965.5 753h0M1020.9 678.9h0M939.8 733.1h0M1007.7 705.5h0M928.2 736h0M995.1 733.6h0M985.9 661.5h0M1008.9 739.6h0M950.1 705.7h0M1036.2 731.9h0M948.6 730h0M1004.8 728.4h0M1017.7 708.1h0M1034.1 688.7h0M1004.4 658.6h0M970.8 719.2h0M979.9 695.5h0M969 677.6h0M955.5 770.7h0M989.6 664.3h0M1013.6 753.1h0M1005.5 748.2h0M977.3 697.2h0M998.2 736.8h0M985.8 683.1h0M974.8 718.4h0M998.8 742.2h0M924.2 728.7h0M989.1 701.4h0M938 734.2h0M1026.7 734.5h0M1008.1 764.2h0M932.1 752.4h0M1035.6 734.3h0M989.1 763.6h0M968.6 663.8h0M997 714.6h0M991.7 738.3h0M913.9 745.6h0M997.6 650.3h0M952.6 760.4h0M922.6 759.3h0M925.7 726.1h0M1000.6 665.4h0M955.1 682.5h0M931.5 746.9h0M1002.3 624.8h0M1006.4 685.1h0M939.3 751.4h0M917.9 726.3h0M1019.3 723.8h0M952.1 733.3h0M950.7 774.4h0M943 751.5h0M937.8 678.4h0M1030.6 746.5h0M1010.1 630.2h0M1057.2 705.2h0M998.5 660.7h0M1030.9 722.6h0M967.4 692.7h0M1059.1 666.9h0M1002.6 769.6h0M1040.6 711.7h0M903.3 727.9h0M997 625.8h0M1016.8 677h0M973.3 762.3h0M1040.8 668.6h0M945.7 693h0M951.1 751h0M989.6 672h0M973.8 648.3h0M1020.6 701.5h0M970.3 724.1h0M1014.3 684.8h0M979.6 685.3h0M964 668.2h0M997.8 763.6h0M1004.8 733.5h0M1037 732.8h0M973 695.9h0M939.1 764.2h0M1052 713.5h0M949.6 719h0M1046.1 701.3h0M1011.8 721.5h0M985.3 744h0M919.4 765.7h0M1005.5 756.2h0M932.2 765.4h0M1052.4 681.4h0M925 782.7h0M977.2 769.9h0M1023.4 673.8h0M945.6 778.7h0M1017 758.7h0M1051.8 686.3h0M1027 675.3h0M989.1 746.9h0M919.9 744.1h0M1002.1 757.9h0M972.4 691.9h0M955.3 668.7h0M1060 682.4h0M1043.7 699.9h0M920.7 763.4h0M953.4 703.8h0M1031.9 729.3h0M974.2 681.9h0M1032.5 738.5h0M1011 697.8h0M927.9 737.1h0M999.1 712.3h0M1004.7 748.6h0M928.3 775.6h0M1008.6 702.2h0M923.1 784h0M1050.8 694.5h0M979.8 714.5h0M989 635.1h0M972.2 762.8h0M940.6 709.2h0M940.6 769.9h0M993 761.7h0M921.2 768.6h0M1031.6 672.9h0M997.5 698.2h0M998.2 757.1h0M1057.8 683.1h0M970.3 752.7h0M925.6 733h0M1017.2 765.7h0M999.7 724h0M961.4 673.7h0M980.6 639h0M1033.7 686.8h0M985.5 699h0M980.6 684.1h0M991.9 763.9h0M917.8 771.7h0M948.2 714.1h0M1033 704.2h0M995 758.6h0M915.7 746.6h0M953.1 772.5h0M947.9 725.3h0M972.6 745.7h0M943.5 677.7h0M924.9 747.6h0M1005.2 664.5h0M1026.1 695.1h0M1002.2 661.2h0M1017.6 647h0M958.6 709.3h0M971.4 653.3h0M954 716h0M971.7 728.4h0M1028 697.8h0M1055.3 669.7h0M979.2 734.2h0M951.1 760.9h0M1014.8 688.5h0M954.7 706.7h0M988.3 723.6h0M1033.6 690.5h0M1034.2 651.9h0M1054.3 648.9h0M918.2 724.9h0M1057.6 659.9h0M998 744.3h0M949.1 748.2h0M967.5 737.7h0M1030.2 730h0M994.4 638.3h0M987.1 734.8h0M1012.8 729.7h0M988.7 639.9h0M908.7 733.2h0M943 706.8h0M1044.9 651.1h0M1007.8 733.6h0M939.8 671.5h0M923.5 717.3h0M928.9 742.8h0M992.3 652.1h0M967.2 754.7h0M932.2 746.8h0M1021.9 761.2h0M1009.2 638.8h0M965.1 750.7h0M951.5 771.9h0M964 687.7h0M1056.2 695.7h0M1017.9 725.9h0M1051.5 725.1h0M946.8 675.6h0M1009.6 689.9h0M941.5 772.5h0M1007.1 694.1h0M1019.9 755.5h0M1039.2 687h0M980.5 718.4h0M991.3 644.8h0M1023 685.6h0M1024.1 746.4h0M977.7 690.6h0M992.7 725.6h0M957.9 776.6h0M1050.1 653h0M984.2 724.5h0M1031.2 649.3h0M964.4 720.6h0M1003.8 749h0M1029.3 746.2h0M961.5 780.4h0M1004.9 743.5h0M915.2 747.5h0M1034.9 718.5h0M940.8 745h0M925.9 724h0M919.1 742h0M957.9 756.4h0M995.3 702.7h0M1033.5 726.8h0M976.7 715h0M1035 654.2h0M986.9 749h0M1028.7 730.6h0M1011.1 654.8h0M963 774.6h0M941 738.6h0M1020.2 714.4h0M917.9 734.2h0M1020.9 704.9h0M986.6 739.4h0M923.3 775.2h0M1032.5 738.6h0M932.7 766.6h0M928.7 723h0M1010.6 751.1h0M961.7 690.6h0M955.7 718.7h0M924 775.2h0M1023 663.6h0M960.8 738.7h0M972.1 707.7h0M957 780.3h0M939.3 682.6h0M1058.5 701.1h0M899.3 715.1h0M902.3 722.6h0M901.5 726.5h0M903.5 730.5h0M907 736.7h0M907 740.4h0M909.3 744.9h0M910.9 748.6h0M910.7 753.9h0M912.5 757.8h0M912.5 761.1h0M911.2 767h0M911.2 771.5h0M911.3 775.9h0M911.3 779.9h0M912.6 784.1h0M915.7 786.2h0M921.1 786.3h0M925.6 786.6h0M930 784.5h0M934 785.9h0M939.4 785.9h0M942.4 784.5h0M947.8 785.2h0M952.7 783.4h0M956.5 783.6h0M960.2 782.6h0M965.4 782.3h0M969.5 780.5h0M974.4 781.9h0M979.1 782.4h0M983.4 780.3h0M987 778.3h0M991.8 776.7h0M996.3 777.5h0M999.4 774.8h0M1004 772.9h0M1008.2 772.4h0M1013.3 770.7h0M1016.8 768.9h0M1020.2 766.7h0M1025.7 763.6h0M1029.4 762.1h0M1030.8 756.7h0M1031.1 752.7h0M1034 750.3h0M1037.9 746.4h0M1041.2 742.6h0M1044.4 740.8h0M1045 735.3h0M1048.4 732.2h0M1049.8 728.5h0M1051.8 725h0M1052.6 719.2h0M1053.2 714.9h0M1055.9 710.8h0M1059.9 698.8h0M1059.1 692.8h0M1061 690.2h0M1062 684.7h0M1061.6 672.4h0M1061.7 663.4h0M1059.9 654.5h0M1059.3 650.7h0M1055.2 646.8h0M1046.2 644.4h0M1037.3 643.1h0M1037 638.1h0M1033.4 635.6h0M1030.6 634.7h0M1024.5 636.1h0M1021.9 634.6h0M1016.3 631.6h0M1013.6 628.1h0M1009.9 626.6h0M1004.3 624.8h0M1000.2 625.2h0M997.4 625.1h0M991.6 627.5h0M987.3 628.3h0M983.9 628.6h0M980 631.9h0M976.7 635.1h0M968 638.1h0M963.4 645.3h0M965.3 653.8h0M966.2 658.6h0M964 662.9h0M963.2 666.8h0M961.3 669.9h0M954.8 666.3h0M950.6 663.9h0M946.4 662.1h0M942.5 664.8h0M938.6 677.5h0M939 685.5h0M938.2 691.1h0M935.1 694.1h0M895.4 702.6h0M912.5 678.7h0M927.2 684.2h0M937.2 667.2h0M1060.5 709.2h0M905 734.2h0M914.2 757.5h0M910.8 766.7h0M1033.3 753.3h0M1007.5 775h0M946.7 785h0M961.3 644.7h0M896.3 698.7h0M284.9 391h0M288 393.8h0M224.4 545.8h0M196.6 512.5h0M224.8 548.6h0M199.7 535h0M206.3 553.8h0M161.7 534.6h0M185.2 510.8h0M214.5 551.7h0M220.5 522.5h0M180.3 536.5h0M224.4 542.9h0M193.1 513.1h0M218.7 549.5h0M179.6 526.2h0M223.4 514.5h0M186.8 523h0M229.2 542.5h0M168.3 544.8h0M209.8 503.1h0M197.2 530.3h0M181.6 552.1h0M187.3 541.8h0M192.4 510.8h0M207.4 537.7h0M156.2 554.5h0M200.7 551.9h0M192.3 546.6h0M161 538h0M182.2 517.4h0M230.3 539.2h0M158.9 543.3h0M159.9 537.3h0M217.3 513.6h0M214.3 517.7h0M182.6 522.6h0M179.7 515.9h0M200.5 519.6h0M156.6 532.9h0M199 500.7h0M189.6 550.4h0M205.5 516.3h0M214.9 546.4h0M184.9 514.9h0M198.7 506.7h0M221.9 514.1h0M165.7 555.7h0M228.3 545.9h0M208.1 530.4h0M170.7 555.8h0M181.4 558.9h0M180.8 528.2h0M151.9 545.2h0M179.6 546.2h0M198.3 542.7h0M164.7 539.2h0M181.8 534.6h0M201.8 507.9h0M191.1 553.6h0M166.7 519.9h0M216 528.1h0M218.4 539.2h0M225.1 533.9h0M210.2 517.4h0M173.1 551.1h0M188.6 541.7h0M204.6 522.6h0M191 521.4h0M234.5 544.8h0M184.9 555.2h0M206.6 551.3h0M216.1 537.1h0M211.3 531.4h0M191.6 557.1h0M173.4 536.6h0M159.8 538.9h0M172.1 554h0M189 542.1h0M228.6 533.6h0M201.2 523h0M189.4 564.3h0M168.7 554.6h0M216.7 545.1h0M166 544.3h0M153 547.1h0M177.1 529.5h0M157 547.2h0M195.1 515.6h0M165.5 553.7h0M190.7 559h0M194.7 523.9h0M192.5 522.5h0M217.5 510.1h0M200.5 552.8h0M197.1 546.8h0M159.2 538.7h0M193.9 552.3h0M215.6 518.5h0M190.2 534.8h0M217 550.2h0M181.1 559.8h0M220.6 540.1h0M215.7 504.9h0M202.1 503.2h0M194.9 534.8h0M213 541.4h0M225 537.9h0M229.6 550.3h0M174.3 530.8h0M191 511.9h0M182.9 509.5h0M181.9 554.4h0M179.1 526.1h0M211.4 505.3h0M192 538.9h0M172.9 529.4h0M178 531.7h0M185.9 536.1h0M206.5 536.9h0M195.7 541.1h0M202 546.5h0M218.9 531.7h0M161.6 538.8h0M187.6 511.9h0M187 559.9h0M168.2 529.9h0M184.4 525.2h0M234.4 544.6h0M167.2 537.4h0M207.7 515.9h0M212 542.5h0M194.6 546.8h0M162.6 537.9h0M202.4 539.4h0M185.6 517h0M214.8 504.9h0M238.3 546.4h0M212.1 517.9h0M194.3 514.5h0M182.5 567.5h0M185.7 543.7h0M186.4 554.1h0M180.7 545.2h0M187 512.5h0M212.8 541.5h0M186.8 519.7h0M167.2 550.7h0M217.1 520.8h0M190.3 553.8h0M205.3 537.3h0M208.2 514.4h0M203.1 527.4h0M183.1 521.8h0M220.4 548.2h0M195.9 548.9h0M176.9 548.9h0M173.5 526.6h0M181.2 547.8h0M212.4 508.8h0M201.5 521.4h0M186.7 516.5h0M200.8 539.5h0M186.5 563.8h0M183.4 542.8h0M170.1 561.9h0M182.6 556.2h0M220 534.2h0M213.1 534.4h0M206.4 549h0M191 534.2h0M168.9 547.9h0M209.6 532.7h0M199.8 546.4h0M215.8 534.8h0M195 503.1h0M223.2 539.2h0M186.7 526.2h0M169.6 544.7h0M190.6 540.2h0M157.9 542.6h0M208.3 541.6h0M210.3 527.4h0M222.5 510.5h0M230.8 551.3h0M179.7 552.1h0M186.9 538.5h0M224.9 535.4h0M182.3 538.2h0M188.8 557.5h0M161.7 557.6h0M216.5 522.7h0M178.5 539.7h0M192.8 537.3h0M197.7 540.1h0M187.7 512.4h0M186.5 561.4h0M189.5 543.8h0M166.8 539.4h0M173.9 519h0M184.2 513.5h0M204.6 531.8h0M230.2 540.1h0M156.9 540.2h0M200 531.6h0M193.1 518.3h0M219.2 542.1h0M226.4 529.4h0M210 553.8h0M162.9 542.8h0M188 516.5h0M218.1 546.7h0M169.5 532.9h0M187.9 525.6h0M171.8 549.9h0M192.2 530.2h0M222.3 527.8h0M223.9 539.8h0M161.4 540.9h0M196.1 515.9h0M178.2 537.7h0M219.7 538.7h0M189.4 527h0M205.1 534.6h0M178.5 561.2h0M183.1 562.3h0M196.1 530.5h0M186.7 516.8h0M226.4 514.5h0M206.1 540.2h0M203.7 547.5h0M179.6 533.1h0M202 533.1h0M219.5 533.2h0M161.7 531.5h0M190.2 557.5h0M185.8 513.6h0M187.7 514.5h0M195.1 565.3h0M195.3 500.8h0M179.4 554.7h0M212.5 545.7h0M190.5 503.3h0M182.5 525.7h0M189.6 535.8h0M158.7 531.3h0M223.4 550.5h0M171.4 560.6h0M197.6 552.3h0M187.6 511.8h0M226.1 545.2h0M184.8 532.1h0M216.6 513.5h0M190.7 527.3h0M170.3 545.2h0M189.2 537.7h0M195.8 562h0M155.4 543.2h0M210.8 509.9h0M163.6 560.6h0M167.7 544.4h0M206.7 534.6h0M207.7 551.3h0M195.3 507.6h0M213.8 523.7h0M204.9 549.2h0M212.3 510.9h0M185 507.3h0M221.6 538.7h0M200.5 532.3h0M209 538.6h0M180.7 556.2h0M212.1 506.4h0M165.8 549.2h0M185.7 510.6h0M180.3 511.9h0M174.4 520.3h0M191.5 551.2h0M171.3 547.6h0M220.4 539h0M197.7 535.3h0M220.9 504.2h0M164.7 539.4h0M184.5 525.9h0M187.9 525.3h0M174.8 555.9h0M202 531.8h0M193.5 547.8h0M159.6 546.4h0M160.5 556.2h0M201.8 549.2h0M208.7 549.6h0M177.6 539.3h0M200 529.9h0M192.5 541.5h0M169.2 543h0M186.2 561.3h0M194.7 527h0M217.7 533.1h0M167.8 534.6h0M204.3 524.9h0M156.3 542.3h0M181.3 552.5h0M165.3 541.5h0M171.3 517.2h0M156.2 541.4h0M166 551.6h0M158.8 539.8h0M184.1 536.3h0M172.9 540.9h0M170.9 535h0M229.4 549.2h0M208.9 531.9h0M166.2 551.2h0M212 524.9h0M163.8 543.6h0M175 547.4h0M198.4 526.8h0M202.3 543.8h0M207.7 533.8h0M199.9 537.7h0M164 560.5h0M190.7 504.6h0M225.2 535.3h0M210.6 542.6h0M179.5 532.7h0M185.4 512.3h0M226.9 534.8h0M157.8 533.3h0M175.9 556.3h0M229.9 543.3h0M186.4 548.6h0M222.7 535.4h0M188.5 512h0M219.6 523.9h0M206 515.7h0M191.8 531.2h0M187 513.5h0M156.7 533.7h0M201.3 511.4h0M177.2 552.9h0M221.3 520.1h0M202 515.5h0M196 517h0M216.3 518.8h0M202 551.1h0M186.9 505.4h0M193.9 556.2h0M205 511.9h0M177.5 548.6h0M189.8 536.3h0M194.7 544.5h0M192 521.6h0M214.1 541.1h0M185.6 517h0M219.3 507.7h0M213.5 527.4h0M216.2 541.5h0M221.7 509.5h0M208.7 549.3h0M160.3 547.7h0M193.9 536.2h0M195.6 557.8h0M215.4 511.2h0M215.7 532.2h0M203.5 529.9h0M186.4 547.7h0M188.4 539.6h0M199.5 522.1h0M160.9 528.6h0M219.6 517.9h0M211.1 529.7h0M193.8 526.3h0M168.2 546.1h0M230 543.9h0M223.7 539h0M163.7 534.7h0M200.2 515.5h0M197.1 518.7h0M208.7 522.4h0M172.3 561.2h0M180 542.8h0M166.6 528.8h0M181.5 557.2h0M211.2 527.3h0M159 532.2h0M167.8 534.9h0M188.1 528.7h0M179.1 558.4h0M205.4 509.8h0M189.1 524.2h0M200.3 530.4h0M209.7 529.1h0M221.2 521.1h0M206.3 512.2h0M198.8 515.6h0M197.8 532.1h0M215.1 519h0M173 558.6h0M186.9 541h0M187.8 556.2h0M186.1 547.5h0M216.1 538.8h0M239.1 545.1h0M204 510.8h0M174.3 550.1h0M180.1 511.8h0M187.8 522.8h0M165 558.7h0M218.6 547.8h0M161.4 549.6h0M220.4 545.6h0M170.1 535.7h0M199.4 528.5h0M184.5 526.5h0M235.8 550.4h0M160.8 555.9h0M235.4 551.5h0M216.2 535.5h0M182.3 555.8h0M213.6 522.8h0M202 518.1h0M210.7 505.6h0M179.7 543h0M203.1 539.1h0M209.5 514.1h0M181.1 566.1h0M175.3 526.9h0M205.6 548.5h0M170.5 559.8h0M185.7 551.5h0M161.5 537.2h0M193.1 535.8h0M160.3 531.1h0M190.9 552.5h0M176.4 525.4h0M196.6 517.9h0M203.3 516.7h0M226.2 538.3h0M214.4 525.3h0M232 550.5h0M217.6 537.6h0M224.5 545.8h0M175.4 526.1h0M182 551.1h0M175.3 553.8h0M206.4 511.9h0M211.4 511.6h0M207.6 514.3h0M217.9 528.6h0M171.2 548.9h0M213 547.8h0M210.9 509.7h0M165.1 530.5h0M173 540.6h0M206.3 517.7h0M153.7 541.6h0M191.8 539.8h0M207.3 517.6h0M158.9 545.9h0M182.8 535h0M198.7 530.8h0M203 500.5h0M168.8 547.5h0M189.4 541.4h0M197.4 543.9h0M181.2 551.1h0M156.2 549.8h0M214.9 512.3h0M162.5 562h0M159.3 550.6h0M191.2 533.9h0M228.1 549.5h0M202 534.1h0M202.2 534.7h0M167.1 558.8h0M183.2 541.8h0M182.8 566.8h0M209.3 526.3h0M228.2 535.5h0M200.2 542.8h0M178.8 555h0M218.8 549.9h0M221.2 532.1h0M195.7 548.2h0M196.3 531.2h0M192.1 560.4h0M178.6 528.2h0M182.1 529.5h0M213.6 539.9h0M211.8 520.2h0M200.1 535.2h0M215.9 547.6h0M224.1 541.4h0M190.3 550.4h0M197 537.1h0M172.6 534.7h0M173.5 552.9h0M179.3 531.9h0M207.8 510.1h0M226.4 540h0M170.9 551h0M197 504.6h0M201.7 503.2h0M220.6 541.6h0M175.1 536.2h0M200.7 525.6h0M158.6 532.9h0M176.3 521.6h0M175.8 557.5h0M217.9 535.2h0M209.4 540.5h0M164.3 553.8h0M216.3 540.6h0M217.5 546.7h0M212.2 545.2h0M202.3 507.6h0M166.1 527.3h0M185.5 538.3h0M213.3 513.4h0M189 551.7h0M176.5 518.5h0M154.8 550.8h0M215.1 524.8h0M192 550.3h0M206.2 538h0M221.1 539.3h0M168.9 558.2h0M189.6 546.4h0M181.8 554h0M160.4 546.2h0M194 509.8h0M188.6 556.4h0M220.8 539h0M212.6 504.7h0M198.8 525.3h0M218.1 532.4h0M200.3 532.6h0M215.3 505.6h0M206.5 547.4h0M170.4 546.1h0M155 548h0M216.9 523.8h0M213.2 535.9h0M176.5 535.7h0M188.7 534h0M216.6 515.7h0M220.7 548.4h0M192.4 511.3h0M172.9 546.2h0M177 543.9h0M215.1 520h0M226.7 535.7h0M224.7 528.4h0M216.8 545h0M183.2 523.8h0M173.3 553.5h0M178.3 548h0M167.3 555.3h0M232.2 541.7h0M209.6 518h0M177.7 540.8h0M224.7 524.9h0M181.7 564.2h0M165.8 523.4h0M202.7 539h0M210.1 522.6h0M221.6 536.2h0M178.9 525.2h0M193.2 516.3h0M233.7 548.2h0M179.8 517.6h0M191.3 535.8h0M214.2 514.7h0M177 525.8h0M208.3 513h0M173.3 549.4h0M181.9 550.7h0M220.9 550.7h0M164.9 553.7h0M180.7 561.8h0M225.7 540.6h0M188.5 533.6h0M228.2 541.4h0M194.7 566.8h0M180.2 520h0M177.4 534.7h0M193.1 517.7h0M186.4 551.6h0M222.3 554.2h0M211.1 526.6h0M167.3 550.4h0M162.8 561.7h0M178.6 548.4h0M200.5 527h0M186.9 544.9h0M173.2 524.7h0M162.3 550.1h0M195.4 504.1h0M205.6 524h0M205.9 516.7h0M208.7 519.9h0M186.4 551.8h0M183.6 519.3h0M226 536.5h0M177.3 517h0M186.5 531h0M189.3 528.2h0M211.3 539.2h0M210.5 513h0M194.4 537h0M178.6 524.4h0M188.4 523.7h0M192.8 533.3h0M158.2 533.2h0M202.6 534.1h0M186 531.7h0M203.1 543.3h0M220.3 510.5h0M203.5 549.6h0M170 526.2h0M191.2 505.5h0M189.1 535.5h0M205.3 524.8h0M225.4 536.9h0M176.8 521.1h0M209 551.3h0M197.5 501.8h0M219.6 534.8h0M182.3 530.9h0M215.4 522.9h0M182.7 524.4h0M182.7 560.8h0M207.3 549.2h0M176.1 556.9h0M175.1 541.5h0M186.5 557.4h0M215.2 522.6h0M200.4 549.4h0M215.1 539.6h0M187.2 514.5h0M213.3 524.9h0M181.1 526.3h0M197.3 525.4h0M159.1 534.8h0M172.5 536.5h0M166.5 549.5h0M213.7 529.8h0M197.2 547.8h0M178.7 556.6h0M209.6 514.2h0M232.6 550.7h0M202.5 523h0M230.1 538.4h0M170.4 539.2h0M174 530.3h0M183.2 530.2h0M186.6 550.1h0M205.4 539h0M208.3 511.3h0M195.6 533.3h0M212.7 546.3h0M226.9 543.9h0M191 526.8h0M213.3 533.1h0M157.6 557h0M193 513h0M181.8 524.3h0M228 535.7h0M220.3 515.4h0M186.7 553.4h0M149 553.7h0M151.3 557.3h0M157.2 556.9h0M159 560.1h0M161.9 561.4h0M167.6 560.8h0M170.3 563.2h0M174.2 560.6h0M177.2 561.6h0M180.2 566.1h0M183 569h0M187.2 568.6h0M192.2 567.5h0M196.8 566.6h0M199.2 567.5h0M199.1 564.1h0M197.7 559.5h0M199.2 557h0M203.3 556.2h0M208.5 556.8h0M211.5 553.9h0M216 556h0M221.5 554h0M225.1 553.5h0M229.4 553.7h0M235.1 551.5h0M238.8 551.7h0M241.3 547.5h0M238.5 545.4h0M234 543h0M231 539.4h0M230 535.4h0M228 532.4h0M225.8 528.4h0M226 523h0M226.8 519.3h0M227.9 514.7h0M225.3 511.1h0M224.8 506.8h0M221.1 504.4h0M216.6 502.5h0M212.8 502h0M207.1 501.3h0M203.9 500.2h0M200.4 500.7h0M196 501.6h0M190.4 503.3h0M186.9 504.7h0M182.1 507.8h0M179 510.1h0M178.7 513.2h0M174.4 517.2h0M170.7 517.3h0M166.5 518.1h0M164.7 522.4h0M162.3 525h0M159.5 528.6h0M157.3 533.6h0M153.9 536.8h0M149.9 539.1h0M149.4 544.4h0M148.4 548.7h0M220.2 571.1h0M227 576.2h0M224.7 573.2h0M224.6 572.6h0M240.4 573.3h0M232.6 575.4h0M242.9 571.2h0M220.5 574.7h0M230 575.1h0M218 575.3h0M220.6 568.9h0M216.6 572.9h0M220.4 571.7h0M215.2 570.4h0M217.4 574.8h0M220.7 576h0M226.4 578.2h0M230.1 576.4h0M235.2 576.4h0M239 573.5h0M242.9 574.5h0M244 572.9h0M241.4 570.4h0M238.9 568.5h0M235.8 571.9h0M231 575.3h0M227.5 573h0M224.9 570.4h0M221.6 565.7h0M218.3 567.4h0M203.3 567h0M207 571.6h0M214.7 565.5h0M220.8 563h0M236.3 562.4h0M240.5 500.4h0M243 497.3h0M245 494.7h0M248.7 492.9h0M251.8 492.2h0M255.3 490h0M258.9 488.8h0M262 490.4h0M258.3 494.6h0M255.6 497.3h0M261.1 492.8h0M249.2 493.7h0M253.8 490.9h0M237.3 502.8h0M238.5 507.4h0M234.9 510.2h0M237.3 513.8h0M245.5 508.3h0M249.2 504.7h0M251.9 501h0M254.7 503.2h0M237.3 522.1h0M244.6 524.8h0M236.3 531.3h0M229 528.5h0M235.4 535.8h0M474.4 594.6h0M433.7 576.5h0M461.6 583h0M515.6 545.1h0M463.6 579.7h0M500.3 553.3h0M494 557h0M501.1 575.1h0M491 567.6h0M474.2 591.4h0M465.8 568.2h0M447 575.3h0M508.9 525.9h0M514.3 540h0M472.5 572.3h0M443.6 581.4h0M436.9 591.5h0M425 569.1h0M478.9 575.6h0M471.9 572.8h0M497.5 558.5h0M436.5 584.4h0M442.9 573h0M435.5 582.6h0M449.3 563h0M434.7 572.7h0M509.5 542.7h0M503.9 556.2h0M453.6 583.1h0M501.2 579.5h0M439.3 591h0M479.2 560.7h0M436.1 564h0M474.5 572.6h0M484.3 568.4h0M473.2 567.8h0M443.9 585.1h0M490.4 573.7h0M423.2 565.6h0M479.4 594h0M504.1 552.4h0M496.8 570.6h0M447.1 581.3h0M473 571.1h0M485.9 566.2h0M451.8 562h0M499.9 581.3h0M465.9 577.9h0M447 585.3h0M463.6 577.5h0M490.1 576.1h0M446.5 574.9h0M442.7 565.6h0M459.6 575.2h0M442.5 576h0M472.3 576.9h0M511.6 528.7h0M456.1 588.7h0M509.5 568.5h0M488.1 575.7h0M492 586.4h0M499.9 548.1h0M449.2 571.5h0M511.9 535.4h0M445.9 582.1h0M445.5 594.9h0M428.4 565h0M511.3 556.3h0M507.3 540.5h0M481.3 563.7h0M469.9 596.7h0M479.8 567.3h0M481.9 591h0M457.8 573.1h0M500.2 555.5h0M510.3 544.1h0M467.7 584.7h0M486.6 559.9h0M491.6 558.7h0M457.8 572.7h0M482.2 576.1h0M504.6 552.4h0M507.2 559.4h0M487.9 579.6h0M439.8 588.1h0M476.6 585.1h0M493.8 570h0M466.1 560.5h0M438.4 582.8h0M461 593.6h0M485.7 591.4h0M453.4 593.1h0M486.9 590.7h0M477.3 577.9h0M498.6 549.1h0M481.1 562.5h0M457.3 564.2h0M478.3 563.4h0M517.4 544.8h0M468.6 562.6h0M494.5 558.3h0M426.6 574.4h0M446.6 584.4h0M483.2 566.7h0M493.3 557.8h0M445.7 575.6h0M446.9 566.2h0M470.8 561.3h0M514.4 559.7h0M480.1 566.9h0M446.3 578.8h0M445.8 573.7h0M491.4 553.6h0M508.8 533.8h0M435.8 575.8h0M504.7 552.3h0M458.3 566.7h0M490.5 582.6h0M462.5 592.6h0M470.1 577.9h0M507.3 560.4h0M464.5 565.8h0M492.6 560.4h0M477.1 581.2h0M463.5 561.9h0M500.5 548.6h0M440.2 580.2h0M509.2 542.2h0M455.6 588.3h0M481.5 572.8h0M452.4 585.3h0M475.2 584.9h0M451.9 569.8h0M469.7 563.2h0M501.7 568.3h0M460.9 572h0M483.6 561.4h0M443.2 575.8h0M453.2 581.1h0M468.8 565.9h0M512.9 532.5h0M456.8 585.9h0M471.8 579.3h0M490.2 574.6h0M435.1 562.8h0M435.1 583.3h0M445.6 581.3h0M454.3 579h0M488.5 559.5h0M482.3 586.6h0M517.5 539.6h0M498.9 579.8h0M491 571.1h0M483.5 590.9h0M477.7 579.4h0M487.1 590.3h0M450.4 561.9h0M438.7 571h0M485.7 577.9h0M454.4 562.1h0M458.8 590h0M479.5 583.9h0M478.2 584.6h0M468.2 578.4h0M470.8 572.8h0M455.9 568.3h0M476.7 576.4h0M472.1 585.8h0M440.3 567.3h0M424.9 570.9h0M489.3 572h0M466.8 581.2h0M486.6 559.4h0M466.3 572.9h0M471.2 564.9h0M462.5 586.1h0M494.5 582.6h0M435.7 576.1h0M469.9 559.8h0M438.2 575.1h0M466.5 578.7h0M438.4 566.2h0M499.3 577.8h0M509.8 529.8h0M510 531.9h0M448.5 580.3h0M479.4 563.6h0M450.6 569.3h0M515.9 553.3h0M459.2 577.4h0M512.4 545.2h0M465.3 582.5h0M474.9 588h0M514.2 549.4h0M500.7 580.4h0M478 589h0M463.7 563.9h0M458.8 565.9h0M437.3 570.8h0M457.8 571h0M475.4 577h0M486.5 577h0M483.4 581.5h0M516.5 541.7h0M447.6 562h0M512.1 533.9h0M469.7 587.9h0M424.3 570.9h0M455.9 566.8h0M484.9 561.4h0M482.1 570.2h0M473.9 574.3h0M460.9 582.3h0M498.3 580.1h0M472.6 595h0M513.1 565.9h0M457.6 567h0M511.2 554.7h0M493 559.5h0M468.2 589.6h0M467.3 573.9h0M463.7 575.3h0M513.5 535.9h0M430.4 567.5h0M501.3 560.5h0M494.8 559.9h0M511 565.9h0M513.4 561.8h0M510.7 547.2h0M488.5 575.7h0M515.1 556.7h0M475.4 579.7h0M448.3 577.4h0M507.8 572.7h0M435.7 576.8h0M482.1 588.7h0M456.7 570.4h0M495.3 564.3h0M439.9 576.4h0M485.3 575.1h0M460.9 560.6h0M487.3 568.8h0M436.3 581.4h0M517.5 538.6h0M477.4 574h0M509.6 562h0M510.8 555.3h0M440.8 583.1h0M451.6 594.2h0M501.1 558.2h0M432.2 578.5h0M499.1 561.8h0M516.8 561.2h0M507.9 564.2h0M489.5 569.1h0M451 569.7h0M478.4 574.4h0M471.2 577.7h0M458.7 594.5h0M461.1 593.9h0M506.7 565.5h0M485 587.2h0M481.5 566.5h0M481.8 557.6h0M470.3 574h0M487.5 577.8h0M483.9 568.6h0M497.6 568.1h0M461.7 581.1h0M507.8 552.9h0M465.8 588.2h0M500.6 569.4h0M431.8 568.6h0M457.8 565h0M444.3 590.1h0M508.3 552.6h0M503.3 562.5h0M518 543.7h0M443.7 582.6h0M464.9 561.5h0M514.9 545.7h0M458.8 580.5h0M517 544.1h0M448.8 572.1h0M464.8 568.8h0M469.6 572h0M428.7 567.9h0M506.4 557.6h0M512.1 552.1h0M447.4 593.6h0M474.9 589.9h0M485.4 588.3h0M442.4 593.2h0M467.1 591.6h0M454.3 589.2h0M495.4 558.3h0M433.3 567.9h0M437.9 568h0M481.8 590.5h0M456.8 594h0M449.5 572.6h0M456.6 581.8h0M446 576.5h0M503.9 576h0M489.4 581h0M473.6 581.6h0M472.6 575.1h0M472.8 564.8h0M474.7 582.1h0M469.9 581h0M491.3 576.4h0M518.1 544.7h0M491.4 569.1h0M487.1 563.2h0M457.7 569.5h0M451 576.7h0M473.6 571.1h0M511.9 529.7h0M487.8 571h0M432.4 563.8h0M448.2 576.3h0M514.9 544.1h0M502.6 557.8h0M475.9 569.6h0M471.5 571.8h0M456.4 570h0M500.7 571.8h0M483.2 561.1h0M486 588.5h0M442.6 590h0M459.3 560.2h0M516.2 563.4h0M500.1 576.3h0M440.5 579.9h0M511.2 552.1h0M488.1 557.2h0M513.5 563.9h0M483.7 558.8h0M511.4 553.8h0M489.3 579h0M480.1 567h0M466.4 564.3h0M438.3 575.1h0M493 573.4h0M507.3 554.7h0M446.3 584.1h0M505.4 567.5h0M445.8 564.1h0M465.1 586.2h0M443.2 574.8h0M509.3 525.5h0M436.8 572h0M486.6 583.9h0M456.3 571.5h0M471.2 573.2h0M458.4 585.8h0M499.6 559.1h0M460.6 561.2h0M491.6 560h0M439.7 589.9h0M506.5 558.9h0M455 576.4h0M478.7 566.9h0M445.8 565.4h0M460 575.7h0M460.3 566.2h0M466 572.3h0M443 566.6h0M465.1 579.4h0M483.7 562.2h0M476.7 580.2h0M447.3 588.8h0M506.4 559.9h0M475.2 571.7h0M506.2 573.5h0M461.2 560.5h0M488.5 582.1h0M484.2 590.9h0M474.7 576h0M490.5 559.8h0M510.8 540.5h0M482.9 568h0M513.9 533.1h0M455.6 590.3h0M466.4 583.4h0M501.1 558.8h0M463.7 579.1h0M431.4 575.2h0M506.2 550.4h0M456.6 578.8h0M482.7 585.7h0M472.2 588.1h0M488.8 556h0M500.5 565.6h0M494.8 559.3h0M479.3 561.8h0M493.3 556h0M453.8 590.7h0M510.4 532.5h0M517.1 554.8h0M504.8 574.8h0M491.6 578.8h0M427.4 574h0M494.3 563.4h0M469.4 568.1h0M448.3 591.7h0M467.9 560.3h0M483 574.6h0M433.4 568.9h0M430.5 578.7h0M498.6 549.8h0M423 567h0M423.8 569.7h0M426.7 575.2h0M427 577.4h0M429.2 582.3h0M431 586.8h0M435.5 589.9h0M437.9 592.8h0M441.5 595.6h0M447.5 595.3h0M451.9 597.7h0M456.5 597.3h0M460.3 597.1h0M464.6 597.8h0M470.2 597.3h0M473.4 596h0M478.2 594.1h0M482.8 593.8h0M486.8 592.3h0M489.2 588.2h0M493.7 587.1h0M498.3 584.2h0M501.5 581.7h0M504.7 578h0M509.2 575.8h0M510.8 572.8h0M514.6 569h0M515.9 564.2h0M518.5 560.8h0M519 556.1h0M518 550.3h0M518.9 545.6h0M518.8 542h0M519.1 536.6h0M516.8 532.8h0M516.1 529.5h0M511.5 525.5h0M508.6 525.1h0M508.6 529.9h0M508.3 533.5h0M507.9 538h0M504.6 541.9h0M502 544.5h0M497.1 546.8h0M494 549.1h0M491.1 554h0M488.2 554.9h0M484.3 557.7h0M479.7 557.1h0M473.7 558.1h0M469 558.5h0M465.5 558.4h0M460 558.3h0M457.4 561.3h0M453 560.5h0M447.8 562.3h0M442.8 562.7h0M439.2 562h0M434.1 562.2h0M429.5 564.2h0M423.9 564h0M432 535.3h0M438 538h0M430.7 550h0M428.7 553.3h0M420 547.3h0M442 544.3h0M452 532.7h0M426.7 540h0M422 545.3h0M423.3 553.3h0M422.7 558.7h0M424 562.7h0M429.3 556h0M468.4 463.1h0M469 467.9h0M471.2 463.9h0M483.4 462.1h0M479.8 463.9h0M467 462h0M474.8 462.1h0M468.4 466.3h0M479.9 462.5h0M478.4 463.9h0M471.6 466.6h0M482.3 464.2h0M472.7 466.8h0M478.6 469.5h0M477.8 462.5h0M483.1 462.3h0M481.2 468.8h0M465.7 470.8h0M470.7 469h0M474.7 467.9h0M478.9 470.9h0M481.2 466.6h0M484 463.6h0M481.7 462.7h0M476.1 461.3h0M472.8 462.2h0M467.8 462.2h0M466.4 465.1h0M463.5 470.1h0M496 460.7h0M512.7 461.3h0M521.3 460h0M482 477.3h0M490.7 477.3h0M492 484.7h0M489.3 487.3h0M492.7 490h0M490.7 496h0M493.3 498.7h0M497.3 501.3h0M492 504h0M493.3 507.3h0M486.7 506h0M482 503.3h0M501.3 510.7h0M502.7 513.3h0M500 516.7h0M498.7 520.7h0M494 516h0M481.3 512.7h0M480.7 522.7h0M495.3 528h0M476 531.3h0M479.3 538h0M473.3 542.7h0M470.7 544h0M465.3 546h0M535.3 507.3h0M537.3 509.3h0M555.3 521.6h0M558.7 498h0M525.3 552.4h0M325.5 804.3h0M337.4 844.3h0M352.7 735.4h0M356.1 843h0M346.2 744.9h0M333.2 840.5h0M301.6 835.6h0M369.3 824.4h0M361.5 786.6h0M346.9 790.5h0M328.9 736.3h0M300.1 824.1h0M342.8 796.5h0M376.2 793.8h0M364.9 778.9h0M305.9 859.6h0M347.1 830h0M337.3 793.9h0M338.4 799.5h0M332.9 741.7h0M388.2 839.5h0M322.2 807.4h0M343.7 794h0M336 732.3h0M389 834.3h0M342.8 812.6h0M326.7 733.7h0M306.2 841.9h0M314.9 811.2h0M342.6 815.7h0M357.2 806.6h0M350 833.8h0M409.6 836.2h0M367.4 760.7h0M345.7 738.1h0M340.3 722.4h0M316.3 829.7h0M351.6 834h0M316.7 855.1h0M357.8 783.6h0M372 815.9h0M303.9 829.2h0M315.3 794.2h0M346.8 857.1h0M342.5 769h0M325 813.5h0M344 801.7h0M302.2 846.3h0M371.7 804.7h0M377.5 841.5h0M322.6 784.8h0M317.6 810.3h0M352.3 853.6h0M320.7 848h0M324.5 851.5h0M331.9 783.4h0M355.3 734.3h0M377.6 774.3h0M307 808.5h0M323.5 815.1h0M355.6 779.6h0M326.1 801.1h0M342.1 809.5h0M335.4 837.9h0M340 796.7h0M362 823.9h0M381.1 820h0M356.6 784h0M317.1 834.9h0M314.2 811.2h0M357.3 785.8h0M364.6 765.2h0M305.2 826.6h0M344.4 727.6h0M333.5 825.8h0M353.6 815h0M329.1 779.5h0M347.1 806.4h0M366.8 788.7h0M359.9 821.4h0M354.5 742.3h0M359.7 755.8h0M326.7 773.9h0M315 812.9h0M357.7 819.5h0M362.5 781.6h0M321.4 789.8h0M308.1 812.2h0M349.2 848.9h0M399.7 806.8h0M346 846.4h0M301.1 852.7h0M358 777.7h0M366.2 788.5h0M350.3 836.5h0M406.1 821.1h0M346.4 827.2h0M351.2 777.4h0M324 755.3h0M349.7 730.2h0M337.4 725.2h0M312.3 815.8h0M327.7 764.7h0M372.9 806.4h0M348.1 843.9h0M322.6 846.7h0M352.5 840.5h0M338.2 728.1h0M368.3 772.7h0M320.4 808.3h0M305.4 825.1h0M340.6 728.7h0M354 823.1h0M302.6 856.4h0M389.6 821.8h0M347.6 799.7h0M393.5 817.2h0M297.3 820.9h0M341.4 837.5h0M332 827.4h0M355.4 740.6h0M377.9 844.7h0M365.3 828.7h0M295.6 829.2h0M343.5 774.8h0M355.6 811.7h0M320 820.8h0M320.9 743.4h0M356.3 859.9h0M331.3 839.8h0M324.7 779.4h0M354.4 816.2h0M368.6 816.7h0M304.9 843.4h0M333.6 757.3h0M326.6 816.2h0M359.7 833.5h0M354.4 770.2h0M330.7 845.9h0M307.1 809.7h0M311.4 853.1h0M319.5 823.4h0M362.9 780.6h0M346.1 838.9h0M336.8 801.3h0M358.9 840.5h0M340.6 843.3h0M337.9 818.9h0M386.6 841.4h0M347.5 813.4h0M323 776.9h0M362.8 788h0M313.7 813.7h0M334.1 785.3h0M366 786h0M374.5 786h0M390.7 825.7h0M324.9 798.1h0M344.6 775.7h0M354.2 838.6h0M372.3 794.4h0M306.9 830.8h0M366.7 753h0M306.1 835.5h0M340.9 825.3h0M332.9 798.4h0M347 776.7h0M303.5 810.6h0M316.6 808.2h0M316 827.5h0M348.1 851h0M302.3 824.9h0M347.7 822.6h0M334.6 818.6h0M376.5 829.3h0M348.2 845.8h0M344.2 856.1h0M380.5 826.4h0M356.7 779.7h0M352.3 822.4h0M298.8 848h0M338.6 759.8h0M330.8 727.9h0M372.6 776.1h0M317 839.6h0M329.7 758.4h0M375.1 780h0M362.2 843.1h0M319.3 848.4h0M349.6 850.8h0M294.6 817.3h0M371.2 796.2h0M298.8 844.3h0M341.4 831.6h0M364.5 804.6h0M349.8 820.1h0M379.3 786.5h0M328.8 852.7h0M350.6 846.4h0M332.3 798h0M364 840.3h0M329 787.2h0M346 860.7h0M337.4 852.1h0M373 830.4h0M297.7 823.2h0M354.7 826.2h0M343.3 731.8h0M366.5 828.7h0M333.9 844.3h0M361.8 808.1h0M346.2 733.5h0M339.3 850.9h0M319.6 784.7h0M349.6 838.1h0M324.6 834.1h0M354.7 763.2h0M336 826.1h0M322.7 764.2h0M375.6 832.3h0M369 788.5h0M322.6 839h0M329.8 817.6h0M367.7 819.7h0M369.5 821.2h0M351.7 732.8h0M320.5 809.1h0M348.1 841.5h0M364 802.5h0M374.9 778.8h0M367.5 839.9h0M327 853h0M375.9 781.9h0M389.2 818.5h0M327.4 793.8h0M296 832.2h0M311 836.8h0M357 839.6h0M384.8 830h0M370 771.2h0M320.5 849.5h0M353.9 803.8h0M356.9 806.5h0M365.6 803h0M313.2 846.6h0M373.4 807.7h0M321.6 841.2h0M381.4 832.7h0M306.6 809.4h0M321.4 846.4h0M365.2 762.7h0M319 824h0M332.5 762.3h0M337.9 831h0M372.1 801.9h0M325.3 839.1h0M334.7 771.6h0M359.4 831.9h0M353.8 835.2h0M349.9 815.6h0M304.9 832h0M333.5 850.6h0M353.7 814.6h0M369 768.4h0M374.6 822.4h0M333.1 767.2h0M350.7 774.7h0M326.2 858.3h0M321.4 795h0M349.5 822.4h0M297.6 839.6h0M362.9 839.9h0M337.4 831.6h0M375.7 806.8h0M326.3 837.4h0M314.1 838.2h0M328.8 779.6h0M345.4 762.1h0M356.1 790h0M336.1 852.7h0M321.3 859.2h0M336.8 787.5h0M358.3 777.2h0M374.4 823.1h0M329.2 817.1h0M334.5 769.8h0M362.6 802.2h0M328.8 832.2h0M347.8 804.8h0M309 827h0M361.1 828.1h0M337.6 726.7h0M370.8 767h0M360 786h0M377.5 815.3h0M353.6 815.3h0M368.3 841.5h0M328.1 757.6h0M311.9 837.5h0M322.6 817.5h0M351.2 748.4h0M332.5 728.4h0M355.8 732.1h0M357.7 782.3h0M376.2 798.4h0M371.8 838.6h0M340 765.6h0M299.7 836.7h0M363.1 776.2h0M386.1 838.9h0M309.1 833.5h0M353.2 794.5h0M354.4 749.3h0M352.8 833.2h0M334.2 811.9h0M318.8 792.2h0M329.2 862.1h0M324.1 770.6h0M312.2 790.3h0M321.8 829.5h0M351.9 787.6h0M335.5 804.2h0M335 808.4h0M315.8 856.4h0M330.4 837.7h0M379 812.6h0M344.6 842.8h0M326.5 753.4h0M369.2 823.2h0M311.8 852.1h0M318.7 813.5h0M312.2 851h0M335.7 847.1h0M373.2 824.5h0M329.5 834.7h0M351 828.5h0M383.2 825.5h0M335 793.2h0M340.4 840.4h0M398.2 805.9h0M389 816.5h0M340.7 811.7h0M363.1 764.3h0M316 791.4h0M354.5 853h0M345.6 790.6h0M344.1 805.3h0M339.6 836.1h0M348 836h0M332.4 851.6h0M368 800.3h0M364.5 835.7h0M373.4 781.2h0M313.8 848.2h0M347.2 791.6h0M413.9 825.4h0M395.8 807.1h0M361.5 779.8h0M330.7 800h0M326.7 848.7h0M375 814h0M337.2 797.8h0M294 823.1h0M367.6 780.5h0M342.4 859.9h0M375 820.3h0M343.6 763.6h0M320.5 843.2h0M395.2 814.3h0M347 787.9h0M325.8 781.3h0M329.3 772.1h0M321.9 797h0M360.2 792.3h0M363.3 819.2h0M323.9 745.5h0M340.7 729.4h0M297.8 825.6h0M377.7 776.9h0M347 755.6h0M350.3 824h0M340.6 826.7h0M326.9 826.6h0M369.4 790.5h0M341.4 750.1h0M401.1 835.5h0M375.5 812.3h0M359.1 824.4h0M354.6 797.8h0M331.6 781h0M364.2 807.5h0M348.2 808.8h0M369.2 794.6h0M345.9 786.5h0M336 822.8h0M310.7 834.1h0M306.9 822.7h0M359.8 762.2h0M340.4 797.1h0M310.5 813h0M333.1 833.3h0M384.7 814.3h0M339 852h0M334 847.5h0M332.4 839.2h0M347 814h0M331.7 855.7h0M331.4 833.1h0M365.2 810.4h0M324.9 802.4h0M317.3 800.3h0M359.6 793.2h0M332.5 793h0M386.7 810.3h0M350.4 772.9h0M358.7 764.6h0M371.1 802.4h0M375.1 837.5h0M353.8 757.2h0M344.5 815.7h0M363.5 836.8h0M374.4 829.9h0M305.1 816.5h0M299.5 827.5h0M347.6 800.2h0M373.9 838.4h0M363.7 828.1h0M316.1 852.3h0M356.8 822.2h0M341.3 761.2h0M365 800.5h0M405.2 822.6h0M400.4 807.9h0M367.4 813.1h0M346.2 785.3h0M345.3 830.8h0M339 780.2h0M369.7 776.6h0M367.3 819.1h0M353 843.9h0M335.6 818.4h0M326.3 848.2h0M337.3 802.4h0M319.9 824.3h0M330.6 753h0M354.1 823h0M317.2 787.7h0M390.9 835h0M309.6 814.6h0M329.6 810.1h0M401.7 830.6h0M370.7 827.8h0M362 818h0M300.1 824.1h0M314.5 827h0M362.2 844.7h0M389.7 832.6h0M315.4 811.9h0M321.6 844.7h0M388.7 815.5h0M334.3 800.5h0M318.4 784h0M323.9 813.6h0M360.9 826.4h0M336.6 826.3h0M341.9 850.3h0M355 811.6h0M361.4 803h0M325.9 856.8h0M295.9 820.3h0M326.7 814.6h0M368.3 807.3h0M357.6 851.9h0M372.4 820.5h0M322.3 849.9h0M358.2 831.9h0M346.5 792.3h0M356.2 800.5h0M385 819.3h0M341 853.7h0M341.8 758.6h0M305.2 848.7h0M319.5 800h0M323.2 742.8h0M397.9 829.9h0M384.8 817.1h0M379.1 798.7h0M357.8 795.8h0M357.7 808.6h0M340 805.4h0M313.8 801.3h0M363.7 838.5h0M327.2 852.7h0M358.6 744.7h0M359.8 790.7h0M368.1 807.6h0M364.7 768.9h0M293.1 829.8h0M375.6 778.2h0M299 852.8h0M333.5 725.5h0M385 828h0M367.4 832.5h0M375.6 812.8h0M331 811.1h0M359.8 771.9h0M323.8 852.2h0M379.7 811.4h0M347.3 759.2h0M341 799.3h0M364.5 763h0M344.2 862.1h0M332.5 738.7h0M353.8 826h0M382.2 841.3h0M377.4 810.6h0M377.1 777.9h0M336.7 813.9h0M376.7 807.3h0M342.7 825h0M377.2 776.8h0M348.3 772.8h0M338.7 776h0M300.1 818.7h0M313.2 831.2h0M359.9 809.3h0M355.7 771.7h0M329.2 739.8h0M352.1 859.6h0M355.1 813.2h0M358.9 815.8h0M321.5 851.1h0M349.4 841.5h0M343.9 798.1h0M366.4 774.5h0M373.4 813.3h0M354.5 734.4h0M318.8 790.1h0M368.3 803.3h0M370.2 817.2h0M335.6 818.8h0M295.2 830.3h0M341.6 836.7h0M294.3 825.6h0M295.7 818.4h0M327.4 789.5h0M362.3 752.6h0M376 790.5h0M368 778.9h0M332.2 773.3h0M328.4 768.4h0M335.6 850.9h0M383.4 823.8h0M368.1 807.2h0M330.9 857.8h0M340.6 816.9h0M328.7 854.8h0M338.8 740.2h0M297.2 838.3h0M343.3 795.4h0M375.5 803.6h0M340 781.5h0M333.8 811.2h0M359 853.5h0M363.2 762.7h0M376.1 804.5h0M348.7 797h0M313.4 848.7h0M330.8 812h0M320.2 856.8h0M362.6 814.9h0M305.2 836.3h0M395.9 822.2h0M332.5 765h0M353.1 734.4h0M376.1 839.9h0M328.6 857.5h0M345.3 811.7h0M305.1 846.9h0M356.6 852.8h0M318.7 783.7h0M376 770.4h0M375.7 784.2h0M408.4 818.2h0M330.7 845.6h0M312.9 840.5h0M302.3 853.5h0M331.4 779.1h0M339 774.7h0M331.2 844h0M372.8 785.6h0M401.1 808.3h0M297.7 826.9h0M380.7 820.6h0M325.4 830.6h0M324.3 774.3h0M346.5 843.1h0M317.6 843.1h0M336.8 740.4h0M312.8 809.1h0M320.5 853.8h0M333.6 862.9h0M350.5 770.6h0M335 767.3h0M335.2 813.7h0M346 783.8h0M318.3 798.6h0M348.6 785.3h0M362.2 848.5h0M354.7 759.3h0M377.4 807.9h0M379.9 803.3h0M363.5 824.7h0M364.6 838.4h0M326.6 833.7h0M328.1 774.9h0M337.1 846.8h0M339.8 747.9h0M343.6 765h0M345.4 792.2h0M294.2 843.7h0M294.1 823.5h0M337.7 839.8h0M327 819.5h0M306.3 826h0M359.2 837.4h0M309.4 847.5h0M389.9 827h0M363.6 784h0M370 791.8h0M365.2 799.2h0M359.6 816.2h0M345.6 811.2h0M300.8 819.4h0M323.6 768.9h0M362.5 817.3h0M376.6 813.5h0M329.9 790.8h0M308.2 821.8h0M362 841.8h0M362.5 851.3h0M356.4 794.4h0M341.5 807.8h0M312.6 851.3h0M358.4 745h0M339 838h0M339.4 776.9h0M307.8 851.8h0M368.1 796.5h0M369.9 843.1h0M312.6 850.7h0M360.7 798.5h0M323.1 735.9h0M352.1 790.6h0M352.7 858.3h0M375.7 776.2h0M340.1 790.3h0M325.6 830.7h0M336.7 836.4h0M341.3 842.4h0M328.8 808.4h0M371.4 775.7h0M342.6 797.5h0M372.3 816.8h0M359.5 807h0M372.1 774.5h0M359 770h0M354.9 801.1h0M319.2 812.5h0M342.6 787.6h0M301.7 824.6h0M378.2 832.3h0M374.2 809h0M348.5 743.9h0M346.2 832.2h0M357.3 810.2h0M301.9 815.4h0M342.2 749.4h0M334.5 787.5h0M342.5 848.3h0M322.8 805h0M359.2 798h0M405.9 810.5h0M351.3 819.1h0M296 837.5h0M376.1 787.5h0M311.5 858h0M343.5 831.1h0M324.2 796.7h0M345.4 759.3h0M322.5 843.9h0M328 808.6h0M321.4 856.6h0M337.4 837.1h0M359.7 832.5h0M352.6 725.7h0M383.3 839.3h0M357.8 772.7h0M336.2 727.5h0M361 797.2h0M311.7 790.5h0M323.7 848.6h0M337.9 778.5h0M358.9 843.2h0M307 829.4h0M357.4 789.2h0M349.4 851.8h0M335.1 748.4h0M300.2 837.1h0M354.6 822.4h0M339.7 769h0M373 767.9h0M376.4 807.8h0M367.8 756.1h0M377.3 804.4h0M372.4 809.7h0M326.3 798.4h0M306.3 845.6h0M310.7 821.5h0M314.3 848.9h0M377.9 775.4h0M328.6 761.8h0M404.6 813.9h0M298.4 831h0M355.3 847.5h0M395.2 832.7h0M411.6 822.4h0M351 821.7h0M362.3 818.2h0M359.6 810.1h0M377.6 816.2h0M324.3 800.5h0M331 790h0M316.9 810.5h0M346.8 800.3h0M328.8 733.6h0M321.6 813.9h0M294.2 826.1h0M326.9 777.4h0M344.1 783.9h0M332.2 821.6h0M292.8 827.4h0M336 825.7h0M334.6 783.5h0M353.6 847h0M322.7 842.9h0M334.1 864h0M346.8 812.8h0M323.8 776.9h0M351.1 781.8h0M375.2 795.8h0M350 853h0M362.9 782.2h0M331.3 807.2h0M306.2 830.8h0M379.7 836.2h0M316.3 814.6h0M411.8 824.1h0M339.4 856.1h0M352.5 749.7h0M351.6 745.3h0M332.3 821.7h0M296.8 832.2h0M303.9 831.8h0M296.4 830h0M395.7 810.6h0M358.7 746.6h0M379.9 834.4h0M296.3 846.7h0M359.3 839.9h0M338.6 797h0M363 751.6h0M355.5 824h0M365.2 803.6h0M367.3 804.6h0M342.1 771h0M375.3 835.2h0M400.1 822.6h0M341.6 720.8h0M380.4 836h0M333.7 800.8h0M308.1 843.2h0M369.2 833.6h0M344.3 831.3h0M356.2 767.5h0M362.5 826.1h0M295.3 826.1h0M310.5 839.1h0M305.9 859h0M358.3 749.4h0M391.4 815h0M326.1 836.7h0M325.8 745.1h0M344.4 854.2h0M368.1 788.5h0M313.4 849.4h0M370.8 839.2h0M375.8 816.1h0M392.9 814.1h0M342.2 834.8h0M330.2 856.8h0M352.2 851h0M308 846.4h0M389.9 829.8h0M353.3 797.1h0M381.4 839.3h0M327.4 851.5h0M321.4 745h0M303.6 850.6h0M325.1 810.2h0M377.2 844.1h0M327.5 814.3h0M359.4 839.4h0M338.8 852.5h0M327.4 771.2h0M338.9 813.8h0M329.6 824.4h0M333.7 848.6h0M300.4 832.1h0M317.1 808.7h0M343.8 827.2h0M339 789.2h0M328.7 795.6h0M358.5 846.4h0M335.5 803.6h0M310.4 823.2h0M354.1 822h0M332 837.8h0M347.5 831.6h0M300.6 835.3h0M308.6 850.8h0M313 788.4h0M322.5 850.9h0M353.2 841.8h0M342.5 832.5h0M365.1 764.4h0M370.1 788.4h0M356.2 829.4h0M319 781.2h0M339.8 826.9h0M351.1 746.3h0M340.5 789.1h0M297.3 853.1h0M345.1 816.3h0M402.5 813.9h0M351.6 768.4h0M326.9 797.8h0M321.6 799h0M356.6 781.8h0M374.3 785.5h0M336.1 752.9h0M319.3 789.4h0M377.7 835.2h0M391.6 828.8h0M372.3 838.4h0M300.8 824.4h0M334.9 818.5h0M310.6 800.8h0M361.9 792.5h0M343.2 807.4h0M327 792.8h0M290.3 821.9h0M353.6 769.7h0M374.2 833.5h0M325.8 792h0M354.1 733.2h0M352.5 804h0M315.2 837h0M368.2 798.8h0M336.1 845h0M367 759.1h0M342 756.7h0M300.3 854h0M371.8 781.6h0M359 849.2h0M297.9 840.9h0M295.1 849.1h0M356.1 846.4h0M331.3 839.3h0M337 845.3h0M331.4 814h0M365.2 814.2h0M297.1 829.5h0M304.4 812.7h0M335 759.5h0M361.3 797.2h0M355.2 854.5h0M306.6 813.3h0M312.2 815.3h0M304.7 812.7h0M345.2 827.7h0M305.2 824.3h0M366.5 782.5h0M343.1 822.7h0M334.3 837.3h0M333.2 724.3h0M383.3 799.4h0M315.1 827.1h0M327.4 822.4h0M354.3 858.3h0M330.3 809.2h0M327.5 760.4h0M378.2 836.3h0M353.9 767.1h0M321.8 816.8h0M297.7 843.4h0M393.2 803.2h0M334.4 836.1h0M328.4 821.2h0M337.5 857.6h0M326.1 785.5h0M378.3 789h0M343.8 760.5h0M350.8 804.6h0M375.6 783.4h0M367.7 801.9h0M347.1 860.2h0M338.3 763.6h0M327 800.5h0M353.8 811.8h0M332 797.8h0M348.7 810.7h0M347.5 742.3h0M336.3 812.9h0M346.8 776.1h0M408.1 814.3h0M333.4 743.4h0M302.3 829h0M334.3 745.1h0M347 841.7h0M355.6 802.4h0M297.9 827.4h0M342.8 778.9h0M306.4 814.7h0M334.6 856.3h0M309 836.5h0M343.7 844.1h0M408.8 817.8h0M351 857.2h0M330.9 837.5h0M312.2 855.8h0M325.3 853.8h0M310.1 825.8h0M342.8 745.9h0M336.4 727.8h0M372.4 778.3h0M356.9 790.7h0M326.1 744.9h0M324.6 762.5h0M366.2 832.1h0M301.5 832.6h0M347.6 784.1h0M344.6 828.1h0M331.4 797.5h0M370.3 837.7h0M365.1 828.8h0M349.1 747h0M372.3 799.2h0M360.7 806.7h0M340.9 802h0M369 820.5h0M339.7 837.7h0M368.3 833.5h0M355.7 847h0M377.6 793.8h0M360.1 844.5h0M319.5 768.1h0M370.8 799.1h0M358.7 752.3h0M300.4 834.2h0M357.6 758.1h0M338.6 778h0M311.9 810.1h0M304.8 850.4h0M311.2 852.5h0M337.7 837.2h0M336.5 857.9h0M380.2 789h0M319.7 809.8h0M340.1 794.4h0M341.9 861.4h0M363.2 748.9h0M340.8 792.4h0M361.5 801h0M336.2 767h0M292.4 828.6h0M362 769.7h0M342.8 762.9h0M381.2 823.3h0M308.9 856.2h0M303 814.1h0M306.5 821.6h0M377.3 794h0M376.8 778.8h0M323.6 766.8h0M327.7 745.8h0M379.8 795h0M342.4 785.2h0M351.1 793.9h0M343.9 755.8h0M308.9 857.7h0M363 814.7h0M345.4 740.3h0M371.7 816.7h0M386.6 840.1h0M303.6 852.9h0M391.1 822.9h0M310.3 848h0M376.5 817.8h0M310.2 854.3h0M316 841.1h0M373.4 825.3h0M303.4 849.3h0M375.6 842.4h0M303.1 838.1h0M364.6 790.3h0M305.8 826h0M345.3 790.6h0M335 822.7h0M326.1 756.5h0M327.9 795.5h0M368.6 830.4h0M325.4 761.4h0M335.1 843.1h0M352.5 758.6h0M392 805.8h0M347.7 830.8h0M365.5 835.5h0M328.1 829.1h0M374.6 820.5h0M333 833.5h0M346.5 806.2h0M354 772.8h0M373.7 821.4h0M318.3 854.3h0M366.9 824.3h0M346.1 779.1h0M337.9 720h0M323.8 780.6h0M372 818.3h0M355.6 792.8h0M308.3 830.1h0M340.4 822.6h0M330.6 802.3h0M339.7 794.1h0M370.1 808.9h0M375.7 794.4h0M353.5 810.9h0M341.1 854.9h0M395.8 829.5h0M361.1 802.4h0M295.1 828.1h0M327.1 754.9h0M349.7 839.9h0M328.3 786.2h0M362.7 776.6h0M359 792.7h0M346.2 835.4h0M364.7 795.3h0M302.8 851.4h0M335.5 766.7h0M354.5 803.7h0M333.9 812.8h0M396.5 825.7h0M365.2 755.1h0M318.5 807h0M309.9 838.2h0M325.4 830.9h0M335.7 860h0M328 754.9h0M365.9 752.8h0M336.8 747.3h0M370.7 806h0M332.3 800.8h0M354.4 822.5h0M311.7 832.4h0M377.4 815.1h0M362 812.6h0M355.2 809.7h0M343.7 752h0M380.2 813.1h0M297.4 840.7h0M345.1 750.1h0M321.5 854.4h0M332.3 759.2h0M362.4 830.6h0M342.1 830.5h0M376.6 838.1h0M356.9 781.3h0M364.8 760.5h0M346.3 727.1h0M349.3 843.8h0M343.7 736.6h0M370.6 804h0M326.8 860.8h0M305.6 817.2h0M308.1 828.8h0M361.6 767.9h0M338 743.4h0M337.5 859.6h0M363.5 836.4h0M352.1 822.9h0M306.4 854.8h0M313.4 855.1h0M309.6 802.5h0M352.8 855.7h0M360.4 749.9h0M323.2 804.6h0M336.4 787.8h0M323.6 761.3h0M356.8 803.6h0M344.2 816.2h0M331.6 780.8h0M347.9 831.1h0M335.9 816.8h0M375.1 782.9h0M380.4 815.4h0M325.6 791.4h0M289.7 824.7h0M324.9 800.2h0M364.6 796.2h0M340.2 796.3h0M375.9 816.8h0M342.7 742.2h0M325.2 817.4h0M302.6 826.6h0M349.7 792.6h0M332.7 804.6h0M321.6 794.2h0M330.1 779.8h0M321.7 787h0M400.3 815.5h0M301.8 833h0M295.2 842.6h0M325.3 834.1h0M309.2 851.6h0M367.7 833.7h0M356.5 824.7h0M350.6 851.5h0M307.9 854.2h0M348.4 859.8h0M376.3 790h0M323 863h0M387.1 834.4h0M359.4 790.6h0M319.9 840h0M343.5 726.4h0M316.4 843.3h0M316.3 804.3h0M359.9 831.8h0M353.1 840.3h0M338.8 764.9h0M297.8 836.7h0M324.2 733.9h0M360.5 797.4h0M333 819.3h0M374.4 819.4h0M377.5 817.3h0M345.9 734.4h0M299.8 847.4h0M347 780.5h0M319.9 838.7h0M325.8 739.4h0M323.3 820.4h0M384.4 817.6h0M299.4 840.5h0M354.2 833.7h0M367 804.6h0M351.4 805.2h0M386.9 813.1h0M346.7 840.8h0M299.7 839.4h0M316.4 827.4h0M328.1 852h0M357.8 849.2h0M318.2 818.8h0M287.9 823.4h0M288.1 826.8h0M290.6 830.7h0M294 833.2h0M293.7 836.7h0M292.8 841.5h0M295.2 845.6h0M296 851.2h0M297.2 852.9h0M302 856.2h0M305.3 858.4h0M310.4 860.3h0M314.1 862.4h0M318 862.1h0M322.6 863.7h0M326 864.3h0M331.7 865.2h0M336.9 864.5h0M339.7 864h0M344 863h0M350.3 862.5h0M354.1 861.2h0M358.9 859.5h0M361.7 857.1h0M362.9 852.9h0M366.3 848.4h0M369.5 845.8h0M372.9 844.5h0M377.8 845.2h0M380.9 845.9h0M384.6 843.4h0M392.4 843.2h0M399.2 835h0M402.3 838.4h0M411.6 834.7h0M415.8 830.9h0M417.2 827.5h0M413.8 823.9h0M410.2 817.6h0M412 812.1h0M408.6 809.5h0M405.6 808.5h0M397.4 805.6h0M388 797h0M386.1 795.2h0M382.7 791.8h0M381.8 788.8h0M381.2 784.3h0M380.9 774.4h0M379.5 770.4h0M376.4 767.6h0M374 764.8h0M365.6 750h0M361.9 745.8h0M359.5 742.2h0M356.6 737.8h0M356 735.6h0M356.4 731h0M354 726.9h0M351.6 724.4h0M348.5 721h0M339.5 718.9h0M334.6 722.3h0M331 724.1h0M328.1 726.4h0M324.2 729.4h0M322.5 734.4h0M322.7 739.3h0M320 742.5h0M321.3 747h0M320.9 751.8h0M319.8 755.7h0M319.9 760.6h0M320.6 765h0M318.3 770.2h0M323 770.3h0M319.7 777.5h0M317.6 783h0M313.3 784h0M309.8 786.6h0M311.3 788.7h0M311.8 793.9h0M313.5 798.2h0M311.2 800.2h0M306.9 805.8h0M303.5 806.4h0M299.5 810.5h0M297.5 813.7h0M294.3 817.3h0M291.2 818.9h0M466.8 854.9h0M456.5 842.3h0M468.4 851.6h0M448.6 841.4h0M468.2 862.6h0M468.1 857.1h0M426.5 821.3h0M457 843.3h0M428.3 834.7h0M444.3 840.1h0M469.1 858.6h0M421.6 826.6h0M430.9 838.3h0M470.3 848.1h0M429.7 824.4h0M460.7 849.3h0M454.1 850.3h0M470.5 866.3h0M455.5 851.3h0M441.7 841.3h0M446.2 839.4h0M460.8 855.6h0M461.8 851.2h0M429.8 831.2h0M440.6 834.4h0M429.2 833.9h0M462.3 866.8h0M444.9 839.3h0M465.8 863.9h0M424.8 828.8h0M424.2 822.4h0M437 840.2h0M472.9 866.5h0M441.7 836.7h0M442.5 838.2h0M432.4 839.6h0M451.7 851.2h0M456.5 846.3h0M428.6 823.4h0M461.8 853.3h0M459.3 861.2h0M467.6 847.3h0M430.4 833.9h0M431.4 834.8h0M453.1 858.1h0M443.6 838.4h0M460.6 855.4h0M469.9 864h0M437.9 836.1h0M454 844.2h0M455.1 846.7h0M462 849.9h0M471.1 862.7h0M431.2 832.7h0M456.1 842.3h0M466.3 850h0M460.3 856.4h0M454.3 841.6h0M436.5 841.7h0M467.4 868.5h0M464.7 867.1h0M462.1 863h0M471 848h0M471.2 857.3h0M443.8 841.6h0M468.3 853.4h0M435.9 836.3h0M430.2 831.4h0M427.4 831.6h0M468 859.9h0M466 845.2h0M462.6 846.8h0M447.4 842.5h0M457.9 848.5h0M432.3 839.3h0M424.6 824h0M462.7 858h0M455.3 846.9h0M460.1 868h0M436.1 841.8h0M468.3 863.7h0M421 826.2h0M421.8 829.8h0M424.7 832.6h0M427.7 835h0M432.5 839.5h0M435.1 842.7h0M438.8 843.9h0M443.1 846.3h0M448 846.5h0M449.9 849.3h0M452.8 854.1h0M450.7 856.9h0M447.8 860.4h0M451.5 862.2h0M456.5 864.2h0M459.1 866.1h0M462.2 869.3h0M466.1 868.6h0M472.4 868.4h0M472.4 865.6h0M473.7 860.9h0M473.3 855h0M472 850.9h0M471.1 847h0M468.3 845.5h0M463.6 844.9h0M458.2 843.8h0M453.7 840.2h0M450.3 838.5h0M445.9 837.1h0M441.6 836.1h0M438.7 833.1h0M435.8 830.1h0M432.3 825.7h0M428.3 823.1h0M425.6 821.2h0M420 821.4h0M378.9 735.4h0M373.5 732.5h0M386.8 734.8h0M382.4 736.3h0M371.4 729.6h0M373.9 728.1h0M368 725.1h0M379.8 733.5h0M386.1 734.7h0M376.5 734.1h0M367 726h0M368.2 730h0M373.4 733.4h0M376.6 736.4h0M380.3 737.8h0M385.7 736.1h0M387.6 734h0M385.3 734.2h0M380.8 734h0M376.9 731h0M375.5 728.7h0M371.5 725.9h0M367.8 723.9h0M388.3 743.3h0M386.7 750h0M388.3 755h0M385.8 760h0M390 763.3h0M395 765h0M400 766.7h0M401.7 771.7h0M401.7 777.5h0M398.3 781.7h0M401.7 786.7h0M403.3 790h0M408.3 795h0M391.7 790h0M390 788.3h0M375 747.5h0M380.8 749.2h0M375 755h0M381.7 764.2h0M368.3 752.5h0M317.5 759.2h0M317.5 750.8h0M315 770h0M305.8 795h0M300 806.7h0M295.8 812.5h0M373.3 848.3h0M373.3 857.5h0M379.2 859.2h0M380 855.8h0M385.8 855h0M388.3 862.5h0M393.3 866.7h0M348.3 863.3h0M347.5 868.3h0M405 847.5h0M411.7 840.8h0M418.3 839.2h0M489.4 872.5h0M487.6 873.5h0M506.8 880.7h0M473.3 866.6h0M427.9 822.4h0M483.7 867.1h0M463.9 849.4h0M457.3 843.2h0M459.8 848.7h0M485.9 869.5h0M459.3 843.7h0M435.7 836.2h0M475.8 859.1h0M500.7 882.4h0M460.5 858.9h0M503.8 881.8h0M438.7 841.7h0M506.3 879.9h0M462.6 854.4h0M478.3 858.7h0M468.2 848.1h0M488.3 876.4h0M476.4 858.2h0M423.8 823.5h0M464.5 846.9h0M449.4 844h0M479.8 863h0M427.4 833.7h0M422.4 828.7h0M499.7 872.2h0M500 884.6h0M478.3 855.3h0M480.6 871.4h0M450.4 855.3h0M487.6 877.5h0M497.3 868.2h0M469.4 849h0M460.1 844.1h0M507.2 876.7h0M422.4 823h0M505.9 874h0M496.4 879h0M458.5 854.9h0M429.1 834.5h0M422.2 832.7h0M483.5 866h0M469.6 865.1h0M494.6 880.3h0M468.5 860.6h0M463.6 865.6h0M464.1 863.6h0M495 871.4h0M457.6 857.6h0M494.2 881.2h0M431.8 832h0M469.5 855.4h0M490.5 868.1h0M453.1 854.7h0M509.8 877.3h0M468.7 850.6h0M458.1 850.6h0M468.6 858.5h0M449.8 855.4h0M459.2 851h0M497.8 867.8h0M457.6 860.9h0M466 866h0M430.6 837.1h0M430 832.5h0M464.2 852.5h0M492.2 874h0M462.9 847.3h0M430.4 829.9h0M426.7 826.5h0M445.3 842.6h0M485.2 867.5h0M466.3 857.8h0M426.9 822.6h0M450 851.2h0M431.3 826h0M440.6 843.4h0M454.4 841.7h0M500.8 871.2h0M474.6 855.2h0M468.3 855.6h0M430.4 826.5h0M432.5 837.1h0M479.9 860.2h0M457.8 843.6h0M454.2 840.8h0M467.7 863.7h0M448.6 848.5h0M432.3 836.5h0M505.3 878.8h0M483 870.8h0M466 858.7h0M494.2 876.2h0M456.6 843h0M423.7 825.6h0M438.1 834.6h0M438.4 832.9h0M458.7 853.5h0M443.1 836.9h0M474.2 857.1h0M468.7 857h0M494.9 876.4h0M486 870.9h0M477 860.3h0M495.1 872.1h0M468.5 866h0M483.5 872.9h0M465.1 858.5h0M460.1 843.5h0M426.9 824.4h0M473.5 855h0M498.1 879.7h0M465.4 847.5h0M448 839.9h0M429.4 832.6h0M469.6 855.2h0M462.6 859.5h0M461.4 849.3h0M473.3 859.8h0M456.6 847.4h0M438.3 834.4h0M423.1 834.7h0M455.3 850h0M453.7 847.1h0M464.9 846.5h0M452.8 851.6h0M435 840.1h0M437.2 837.8h0M451.5 855h0M449.6 839.6h0M460.8 852.1h0M492.5 879h0M467.4 860.8h0M503.4 883.2h0M454.2 847.4h0M441.9 845.4h0M499.3 883.6h0M466.9 856.8h0M456.2 847.9h0M492 872.8h0M434.3 832.8h0M451.4 850.4h0M506.5 881.2h0M421.9 822.8h0M422.9 827.3h0M421.5 831.6h0M422.8 834.9h0M427.4 836.7h0M431.3 838.8h0M435 841.7h0M436.3 846.1h0M442.5 846.3h0M444.8 847.1h0M449 850.2h0M450.3 855.3h0M447 859.8h0M451.7 859.3h0M456.2 860.8h0M461 864.1h0M463.1 866.7h0M467.9 868.1h0M472.6 868.1h0M476.4 868.3h0M479.9 872.5h0M481.9 875.1h0M485.5 877.6h0M489.9 879.1h0M494.9 882.5h0M498.1 884.9h0M500.9 884.6h0M505.6 883.3h0M510.6 879.8h0M512.6 875.1h0M508.7 874.5h0M502.9 874.1h0M501.4 869.8h0M497.4 868h0M494.3 867h0M489.3 868.6h0M484.4 866h0M482.5 861.6h0M480.4 857.8h0M478.3 853.8h0M474.7 852h0M471.6 847.5h0M468.6 846.5h0M464.1 843h0M459 841.7h0M456 840.5h0M450 838.4h0M446.9 837.1h0M442.4 835.4h0M438 831.8h0M435.2 829.1h0M431.9 827.2h0M429.4 823.2h0M424.9 821.3h0M435 848h0M456 865h0M462 871.6h0M485 885h0M420 839h0M511.6 935.6h0M509.2 918.1h0M508.8 922.7h0M525.3 1013h0M531.9 1000.5h0M531.3 1007.8h0M532.7 996.6h0M530.2 1000h0M519.4 1018h0M522.6 991.4h0M532.7 1004.6h0M526.2 1004.6h0M532 990.3h0M528.6 990.3h0M522.6 1014.9h0M527.2 992h0M528.5 986.3h0M519.5 979.5h0M532.5 997.7h0M528.7 995h0M525.2 1004.7h0M526.8 994.8h0M526.1 991.1h0M521 988.8h0M528.3 1007.3h0M526 1003.5h0M529.2 988.9h0M527.8 1001.4h0M522.1 1014.3h0M524.8 1003.2h0M527 1000.5h0M522.4 1014.1h0M522 1015.5h0M533 1002.5h0M519 971.6h0M522 1014.2h0M526.7 1004.1h0M523.4 990.9h0M523.9 1013.6h0M528.6 1000.3h0M533.8 997.5h0M531 1008.9h0M519.4 1017.4h0M517.4 971.9h0M517.3 974.7h0M519.1 979.4h0M519.8 984.6h0M519.4 988.8h0M520.3 992.6h0M521.9 996.6h0M523.2 1002.8h0M522.1 1005.5h0M520.1 1009.7h0M517.3 1014.1h0M516.2 1017.8h0M519.7 1017.6h0M524.6 1015.9h0M528.1 1013.9h0M531 1011.6h0M533.6 1007.5h0M534.8 1002.9h0M534.2 998.5h0M533.8 994.6h0M532.4 990.8h0M530.9 985.4h0M526.1 986.5h0M522.2 986.1h0M521.9 982h0M520.4 977.6h0M519.8 974h0M518.7 968.1h0M479.6 1029h0M434.9 1045.8h0M435.2 1046.6h0M437.7 1044.1h0M438.2 1044h0M441 1041.7h0M440.6 1042h0M443.4 1039.9h0M444.5 1040.8h0M606.8 688.7h0M604 649.3h0M608.8 694h0M635.9 701.9h0M608.1 662.7h0M624 666.7h0M616.3 683.1h0M624.1 683.1h0M608.7 653.3h0M610.4 667.2h0M615.3 672.8h0M625.1 684.8h0M634.8 679.8h0M617.6 658.1h0M632.2 700h0M618.7 653.3h0M617.1 651.4h0M610.2 651.7h0M631.8 661.5h0M626.5 666.4h0M640.6 667.8h0M628.6 656.5h0M623 704.1h0M606.2 689.7h0M630.4 689h0M636.1 684.2h0M627.3 701.3h0M647.4 668.6h0M621.3 697.3h0M635 691.1h0M618.6 647.4h0M652.5 688.2h0M616.7 698.4h0M612.8 665.7h0M632.5 673.4h0M631 659.9h0M633.6 688.3h0M637 673.8h0M632.1 704.6h0M636 693.8h0M600.6 679h0M638.4 660.5h0M616.5 657.4h0M602.7 653.3h0M606.6 679.2h0M648.6 679.9h0M619.1 686.6h0M647.3 665.2h0M618.8 665.3h0M632.3 677.9h0M628.8 679.6h0M623.3 700.7h0M634.8 697.3h0M635.8 683h0M614.2 686.7h0M651.2 683.6h0M637.7 663.6h0M649.7 669.8h0M637.2 669.4h0M630.2 688.5h0M601.8 646.8h0M617.1 660.4h0M602.5 658.3h0M645.8 684.3h0M639.9 673.3h0M637.2 689.4h0M614.2 663.3h0M625.3 662.8h0M637.6 694.7h0M614.8 673.1h0M622.5 664.3h0M647.5 679.4h0M634.5 677.8h0M599.1 687.6h0M604.9 651.2h0M614 654.7h0M614.8 651.6h0M622.2 656h0M625.8 674.8h0M609.8 675.6h0M627.4 683h0M633.9 683.9h0M612.1 658.5h0M645.1 670.1h0M633.3 694.1h0M639.6 685h0M629.8 668.8h0M625.5 673.1h0M604.7 648.4h0M622.7 702.5h0M643 664.4h0M630.3 704.8h0M613.4 676.2h0M635.5 672.7h0M607.6 663.4h0M650 682.4h0M622.1 673h0M621.8 651.4h0M646.8 686.2h0M613.8 664.3h0M639.4 680.8h0M635.1 669.9h0M641.7 682.4h0M642.4 674.3h0M635.9 706.7h0M622.5 694.7h0M637.7 680.4h0M618.9 688.2h0M630.5 669.5h0M606.6 672.7h0M608.6 675.5h0M637.2 694.6h0M617.1 680.6h0M631.9 667.6h0M637 665.8h0M624.3 684.3h0M614.4 679.4h0M596.8 683.3h0M644.3 663.3h0M607.6 679.9h0M602.9 647.6h0M634.4 677.7h0M634.5 675.5h0M597.7 683.2h0M603.2 700.4h0M635.3 692.6h0M603.5 684h0M640.6 665.6h0M615.7 673.4h0M630.5 663.8h0M631.1 694h0M655.9 685.9h0M636.3 698.4h0M623.6 678.4h0M648.6 681.9h0M611.9 693.1h0M597.7 671.9h0M609.6 693.5h0M612.8 669.3h0M626.3 667.4h0M635.9 698.5h0M628.1 678.9h0M637.9 701.2h0M623.2 704.4h0M647.8 674.2h0M620.5 655.1h0M645.6 684.7h0M633.8 679.8h0M621.5 664.5h0M634.8 706.9h0M620.9 683.4h0M647 661.5h0M633 705.4h0M606.4 681.1h0M619.5 656.9h0M639.8 704.6h0M603.3 686.3h0M647.1 674.8h0M613.8 682.2h0M622 666.5h0M633.2 678.6h0M601.7 672.3h0M603.3 660.9h0M635.1 675.8h0M625.5 679.3h0M637.7 673.6h0M615.4 654.6h0M625.1 687.6h0M648 680.4h0M612.3 676.4h0M627.8 660.7h0M645.2 672h0M611.7 677.4h0M609.9 669.6h0M614.5 659.2h0M610.8 650.6h0M651.5 688.8h0M611.8 675.4h0M607.2 675.2h0M606.7 675.6h0M615.6 692h0M640.4 704.2h0M616.4 689.4h0M652.7 689.5h0M605.3 648.4h0M631.1 658h0M644.8 675h0M607.7 669.4h0M630.1 670.6h0M627.4 673.5h0M604.4 653.6h0M630.6 687.1h0M613.8 651.2h0M609.6 649.2h0M630.2 706.1h0M602.9 646.3h0M605.4 649.8h0M618.1 680.9h0M633.3 687.3h0M605.6 682.7h0M606.3 665.1h0M607 681.3h0M641.5 660.1h0M629.1 690.2h0M623.1 652.1h0M623 667.4h0M618 650.2h0M632.1 678.4h0M603.6 680.2h0M648.5 685.5h0M606.1 672h0M625.7 692.4h0M650.1 676.6h0M611 668.5h0M624.5 662.2h0M616.9 672.7h0M645.6 668.2h0M631.2 662.3h0M631.8 680.9h0M638.5 682.6h0M622.4 693.6h0M609.4 662h0M618.5 655.8h0M617.6 652.5h0M604.2 650.7h0M604.5 692.6h0M653.4 690.6h0M602 651h0M628.3 700.6h0M633.5 660.7h0M600 649.4h0M600.5 655.4h0M599.3 660.1h0M600.7 664.3h0M598 668.5h0M596.4 672h0M593.5 675.6h0M596.2 677.3h0M596.9 681.7h0M597.1 686.4h0M599.9 690.2h0M602.7 692.3h0M604.4 696.6h0M601.9 699.6h0M603.7 701.8h0M607.9 704h0M611.2 703.3h0M616.9 703.1h0M621.1 704h0M625.3 705.5h0M630.3 707.5h0M634.9 707.8h0M638.9 708.2h0M641.7 705.9h0M640.9 702.4h0M639.3 698.4h0M637.3 693.2h0M639.6 689.2h0M639.9 686.3h0M645.1 686.1h0M649 688.6h0M652.5 689.7h0M656.5 690.4h0M658.3 687h0M655.4 682.7h0M652.3 680.1h0M650.8 676.1h0M649.3 672.3h0M649.1 667.8h0M647.3 662.3h0M648.7 659.2h0M643 657.7h0M640.4 657.8h0M635.1 659.8h0M631.1 658.3h0M629.7 654.8h0M625.5 652.7h0M621 650.8h0M620.3 645.5h0M614.5 645.2h0M609.3 645.8h0M606.8 646.3h0M600.9 646.4h0M674.1 719.6h0M671.4 715.6h0M676.3 722.1h0M673 711.7h0M669.7 716.9h0M671.3 710.3h0M676.5 714.2h0M675.1 725.8h0M673.3 725.4h0M665.8 699.6h0M675 712.8h0M677.6 734.4h0M670.8 716.7h0M665.3 700.5h0M666.8 703.1h0M669.9 705.6h0M669.3 711.6h0M668.5 713.9h0M670.4 717.1h0M671.1 722.8h0M671.8 725.5h0M673.9 730.8h0M676.9 734h0M678.4 732h0M675.8 729.3h0M676.2 725.1h0M677.4 721h0M677 716h0M675.9 711.9h0M674.4 708.8h0M670.7 705.1h0M668.7 699.7h0M666.1 696.1h0M663.1 698.4h0M651.7 708.3h0M650.8 711.7h0M656.7 705.8h0M658.3 711.7h0M659.2 713.3h0M595.8 719.2h0M595.8 722.5h0M725 722.5h0M728.3 718.3h0M581.2 746h0M583.4 742.5h0M586.3 738.9h0M551.6 772h0M562.1 776.8h0M546.8 778h0M560.8 770.2h0M568.9 772.1h0M567.2 773.2h0M562.4 767.7h0M562.6 777.5h0M570.1 773.2h0M572.4 769.4h0M542.9 774.6h0M559.7 776.4h0M576.2 758.6h0M569.3 778.4h0M559.3 766.6h0M548.7 778.1h0M561 772.3h0M567.7 777.4h0M567.4 780.5h0M568.2 771.4h0M560.9 769.7h0M568.4 772.2h0M543.6 776.4h0M577.9 770.5h0M549.8 765.2h0M562.4 771.9h0M573.4 772.2h0M544 772.4h0M577.1 766.8h0M579.5 770.5h0M561.9 782.4h0M543.9 772.2h0M557.2 769.9h0M577.4 763.4h0M556.2 771.9h0M575.1 770.1h0M553.5 769.4h0M550.5 773.4h0M550.9 768.7h0M564.1 775.5h0M577.4 759.5h0M545.1 765.1h0M563.3 779.9h0M545.2 773.6h0M551.4 769.6h0M551.8 772.6h0M575.7 759.1h0M562.4 777.7h0M572.8 768.8h0M573.3 769.3h0M563.4 782.7h0M560.2 770h0M570.6 774.2h0M556.7 767.4h0M550.9 766.1h0M540.5 772.7h0M544.6 777.5h0M547.6 778.4h0M550.9 779.9h0M555.6 780.8h0M560.4 781.4h0M564.5 782.8h0M567.4 780.9h0M573 778h0M576.3 774.6h0M578.5 771.5h0M580.3 769.6h0M578.2 765.2h0M578.5 760.1h0M575.7 756.7h0M573.9 761h0M571.7 765.5h0M571.2 769.6h0M565.8 766.6h0M562.6 765.7h0M558.5 766.2h0M554.1 765.6h0M549.8 763.3h0M544.4 765.3h0M542.5 767.6h0M571.7 758.3h0M552.5 790h0M551.7 794.2h0M600.8 777.8h0M608.3 782.5h0M610.8 785.8h0M613.3 778.3h0M725.8 722.2h0M729.3 720.9h0M732.5 719.5h0M736.6 718.3h0M804.1 790.8h0M805.7 781.3h0M804.6 791.1h0M800.2 785.4h0M807 782.6h0M803.8 780.2h0M807.8 785.5h0M805.1 790.3h0M800.4 783.3h0M801.4 784.7h0M800.9 783.9h0M799.3 785.7h0M797 785h0M799.9 786.7h0M802.3 790.2h0M804.8 793.5h0M805.1 792h0M806.6 789.3h0M808.5 784h0M808.9 780.9h0M808.6 778.3h0M803.5 780.8h0M799.5 782.4h0M744.7 799.6h0M746.1 796.2h0M749 793.5h0M752.8 791.8h0M708.2 849.4h0M709.8 844.5h0M713.8 848.3h0M734 853.3h0M709.4 853.1h0M721.2 852.1h0M710.2 845.4h0M723.3 851.9h0M699.9 850.3h0M718.8 854.6h0M711.9 848.4h0M713.7 851.1h0M726.9 853.4h0M714.8 853.5h0M711.8 848.8h0M718.1 857.3h0M737.6 854.8h0M704 859.5h0M717.5 854.2h0M699.3 847.8h0M732 844.9h0M726.9 845.1h0M719.5 858h0M731.6 847.1h0M736 842.9h0M704.7 850.8h0M699.8 848.2h0M735.1 848.8h0M720.7 854h0M713.2 852.9h0M700.2 851.9h0M711.3 839.8h0M725.1 844.4h0M700.3 855.9h0M713.1 849.8h0M703.4 859.3h0M724.3 855.1h0M728.1 853.1h0M729.7 857.5h0M716.5 849.4h0M718.4 860.5h0M697.4 847.6h0M730.6 851.1h0M719.5 848.2h0M725.6 852.9h0M720.7 843.3h0M717.5 852.4h0M719.5 860.9h0M727.1 844h0M716.1 852.7h0M709.9 850.3h0M733.2 855h0M708.7 838.4h0M719.2 847.5h0M708.1 844.9h0M700.5 847.8h0M710 859.4h0M704.8 857.1h0M713.3 842.9h0M704.2 849.1h0M697.9 846.2h0M731.9 843.6h0M709.1 846.7h0M738.2 851.7h0M711.9 848.9h0M727.6 842.9h0M729.8 842.5h0M710.8 859.3h0M711.2 857.2h0M706.4 844.7h0M695.3 852.9h0M703.1 851.4h0M722.5 859.4h0M727.5 852.1h0M705.4 851.9h0M720.6 855.9h0M716.8 841.2h0M707.1 844.7h0M711.8 854.3h0M718.6 850.3h0M730.5 843.4h0M708.3 853.6h0M736.6 849.5h0M728.7 854.7h0M718.9 851.4h0M699.8 844.4h0M725.3 852.5h0M718.3 846.1h0M724.2 849.7h0M732.2 849.2h0M713.2 855.4h0M704.4 848.2h0M702.3 857.6h0M715.9 852.9h0M727.6 848.2h0M712.9 847.2h0M714.8 844h0M707.4 856.5h0M725.1 841.3h0M712.6 850h0M716.9 855.2h0M714.6 844.8h0M731.9 842.1h0M694.4 852.5h0M696.3 856.2h0M701.2 858.1h0M703.7 859.3h0M709 860.4h0M714.1 862.1h0M718.7 861.1h0M723.5 860.2h0M727.8 860.1h0M731.4 859.7h0M736.8 856.3h0M738.8 853.7h0M739.3 849.8h0M741.3 845.1h0M740.4 842.5h0M735.2 842.6h0M731 841.2h0M726.7 840.1h0M721.9 841h0M716.7 840.2h0M713.4 839.9h0M709 838.8h0M708.1 838.7h0M706.3 843.5h0M701.1 843.2h0M697.9 846.2h0M694.3 848.7h0M706.8 831.7h0M707.1 832.6h0M706.7 832.6h0M629 891.7h0M625.3 885.9h0M610.3 843.2h0M635.3 914.4h0M630.6 899.8h0M629.2 899.4h0M632.7 898.3h0M634.5 914.9h0M634.5 915.7h0M638.4 916.5h0M631.9 901.2h0M630.7 896.1h0M632.5 902h0M634.7 900h0M635.8 921.2h0M634.9 921.3h0M632.6 922.6h0M610.2 847h0M631.2 895.3h0M634.7 903.6h0M628.6 920.8h0M638.4 906.1h0M627.7 897.1h0M628.8 894.9h0M629.4 899.2h0M629 898.6h0M633 899.2h0M630.6 901.2h0M631.6 916.8h0M607.8 847h0M611.9 847h0M611.7 842h0M606 843.2h0M621.1 877.1h0M621.7 880.9h0M622.7 886.4h0M625.5 890.6h0M627.5 894.2h0M627.4 898.1h0M628.5 904h0M631.6 906.9h0M631.6 913h0M629.3 915.5h0M626.5 918.4h0M625.9 922.9h0M630.1 926.1h0M633 923.1h0M637.7 919.6h0M638.5 917.3h0M638.7 911h0M637.7 906.6h0M636.5 902.8h0M635.3 898.7h0M631.8 895.1h0M628.5 890.9h0M625.9 887h0M624.6 882.9h0M622.8 881h0M610.8 853.4h0M612.1 856.7h0M612.7 861.4h0M614.9 864.6h0M615.8 869.6h0M617.9 873.2h0M619 873.3h0M618.7 868.8h0M616.1 864.3h0M614.5 861.6h0M612.6 857.3h0M611.5 853.8h0M613.3 910.4h0M622.7 891.7h0M627.9 906.2h0M658.1 916.7h0M662.9 918.3h0M682.1 926h0M687.3 928.5h0M596.7 719.8h0M595.6 721.9h0M580 770.8h0M582.1 771.9h0M600.8 778.1h0M609.2 782.3h0M613.3 778.1h0M610.2 785.4h0M645.4 917.5h0M648.6 916.5h0M650.6 913.7h0M580.7 745.2h0M583.9 741.6h0M587.6 739.2h0M707.6 938.7h0M709.4 938.6h0M714.9 938.3h0M717.5 945.6h0M721.7 945h0M718.4 944.5h0M713.5 946.9h0M719.5 940.8h0M721.1 940.9h0M723.8 943.5h0M719.2 942h0M710.8 939.1h0M714.9 946h0M716.5 944.6h0M711.9 945.3h0M722.5 937.6h0M718.1 945.6h0M707.8 938.2h0M719.5 937.6h0M705 936.8h0M707.6 939.4h0M711.7 944.3h0M713.9 947.3h0M718.3 948.2h0M723.4 945.6h0M725.5 942.4h0M725.8 938.5h0M719.6 936.7h0M716.7 935.4h0M711 935h0M706.8 934.5h0M700.8 935.4h0M634.6 921h0M636.6 904.1h0M630.3 923.6h0M629.9 895h0M635.4 908.4h0M634.1 917h0M630.1 897.4h0M634.2 911.7h0M629.5 894.8h0M635.1 910.2h0M631.9 917.9h0M636.3 917.7h0M634.3 909.8h0M635.9 903.1h0M637.6 909.4h0M633.7 915.1h0M637.7 910.6h0M625.2 888.1h0M634.6 916.6h0M634.2 906.1h0M637.2 916.9h0M628.1 926.6h0M623.8 886.2h0M626.7 891.1h0M628.2 894.9h0M630 898.4h0M630.9 902h0M632.9 906.5h0M633 912.2h0M632.3 917h0M629.3 918.9h0M627.3 920.9h0M626.2 924.3h0M628.5 927.9h0M632.6 924.9h0M636.6 921.1h0M638.9 917.4h0M639.1 914.3h0M638.6 908.7h0M638.7 905.3h0M635.3 901h0M632.4 897.1h0M630.3 892.8h0M627.7 890.1h0M626.4 886.3h0M624.1 882.4h0M613.3 910.3h0M623.3 892h0M627.5 906.7h0M658.3 916.3h0M663 918.3h0M682.5 925.8h0M687.5 928h0M645.8 916.9h0M650.8 913h0M713.4 950.2h0M715.9 945.6h0M715.4 941h0M716 949.6h0M720.3 939.5h0M714.5 950.7h0M726.9 940.9h0M713.9 946.2h0M712.5 939.7h0M710.4 936.9h0M721.2 944.1h0M701.1 933.9h0M704.7 935h0M702.9 933.6h0M707.6 936.9h0M712.6 938.7h0M711.7 944.7h0M710.6 947.4h0M712.2 953.1h0M716.4 949.3h0M717.9 946.3h0M722.7 944.3h0M726.7 941.6h0M724.7 938.8h0M720.2 938.4h0M717.9 937.1h0M712.4 934.8h0M709.1 934.6h0M654.9 979.1h0M657.9 982.1h0M661.2 985h0" fill="none" stroke="#d3d3d3" stroke-width="5.4" stroke-linecap="round"/>
<circle cx="431.3" cy="538.8" r="2.7" fill="#b39be6"/>
<circle cx="427.2" cy="568.1" r="2.7" fill="#b49ce6"/>
<circle cx="431.3" cy="585.9" r="2.7" fill="#ad96e8"/>
<circle cx="437.2" cy="589.1" r="2.7" fill="#a990ea"/>
<circle cx="446.9" cy="589.4" r="2.7" fill="#b09ae8"/>
<circle cx="450.5" cy="586.6" r="2.7" fill="#b09ae8"/>
<circle cx="421.6" cy="547.5" r="2.7" fill="#a58ce8"/>
<circle cx="423.4" cy="544.4" r="2.7" fill="#8f70ec"/>
<circle cx="429.9" cy="581.6" r="2.7" fill="#9070ee"/>
<circle cx="442.4" cy="588.4" r="2.7" fill="#9070f0"/>
<circle cx="422.8" cy="558.8" r="2.7" fill="#7e5ef0"/>
<circle cx="420.9" cy="555.6" r="2.7" fill="#7b58f0"/>
<circle cx="425.9" cy="541.6" r="2.7" fill="#7a5af0"/>
<circle cx="425" cy="551.3" r="2.7" fill="#7a55f2"/>
<circle cx="428.1" cy="539.7" r="2.7" fill="#7755f2"/>
<circle cx="421.9" cy="551.6" r="2.7" fill="#6a40f8"/>
<circle cx="438.9" cy="529.7" r="2.7" fill="#5a3cff"/>
<circle cx="426.4" cy="572.8" r="2.7" fill="#3a22ff"/>
<circle cx="427.8" cy="576.3" r="2.7" fill="#0000f0"/>
</g>
<!-- axes -->
<rect x="94" y="51" width="2.9" height="1070" fill="#000"/>
<rect x="94" y="1118" width="1024" height="2.9" fill="#000"/>
<g fill="#000">
<rect x="140.1" y="1120" width="2.9" height="4.5"/>
<rect x="305.7" y="1120" width="2.9" height="4.5"/>
<rect x="471.3" y="1120" width="2.9" height="4.5"/>
<rect x="636.9" y="1120" width="2.9" height="4.5"/>
<rect x="802.9" y="1120" width="2.9" height="4.5"/>
<rect x="968.9" y="1120" width="2.9" height="4.5"/>
<rect x="90.5" y="275.8" width="4.5" height="2.9"/>
<rect x="90.5" y="569.9" width="4.5" height="2.9"/>
<rect x="90.5" y="864" width="4.5" height="2.9"/>
</g>
<g font-size="30" fill="#000" text-anchor="middle">
<text transform="translate(141.5,1148) scale(1,1.06)">-15</text>
<text transform="translate(307.1,1148) scale(1,1.06)">-10</text>
<text transform="translate(472.8,1148) scale(1,1.06)">-5</text>
<text transform="translate(638.4,1148) scale(1,1.06)">0</text>
<text transform="translate(804.4,1148) scale(1,1.06)">5</text>
<text transform="translate(970.4,1148) scale(1,1.06)">10</text>
</g>
<g font-size="30" fill="#000" text-anchor="end">
<text transform="translate(88,288) scale(1,1.06)">10</text>
<text transform="translate(88,582) scale(1,1.06)">0</text>
<text transform="translate(88,876) scale(1,1.06)">-10</text>
</g>
<text transform="translate(604,1181) scale(1,1.06)" font-size="30" text-anchor="middle">umapNC_1</text>
<text transform="translate(34,586) rotate(-90) scale(1,1.06)" font-size="30" text-anchor="middle">umapNC_2</text>
<text transform="translate(606,37) scale(0.99,1.06)" font-size="33.5" font-weight="bold" text-anchor="middle">Vsig4</text>
<!-- legend -->
<defs><linearGradient id="lg" x1="0" y1="1" x2="0" y2="0"><stop offset="0.0" stop-color="#d3d3d3"/><stop offset="0.1" stop-color="#cac0d9"/><stop offset="0.2" stop-color="#c1aede"/><stop offset="0.3" stop-color="#b69ce3"/><stop offset="0.4" stop-color="#aa89e7"/><stop offset="0.5" stop-color="#9d77ec"/><stop offset="0.6" stop-color="#8e65f0"/><stop offset="0.7" stop-color="#7c51f4"/><stop offset="0.8" stop-color="#673df8"/><stop offset="0.9" stop-color="#4926fb"/><stop offset="1.0" stop-color="#0000ff"/></linearGradient></defs>
<rect x="1130" y="548" width="15.5" height="76" fill="url(#lg)"/>
<g fill="#fff">
<rect x="1130" y="565" width="3" height="0.8"/><rect x="1142.5" y="565" width="3" height="0.8"/>
<rect x="1130" y="584.2" width="3" height="0.8"/><rect x="1142.5" y="584.2" width="3" height="0.8"/>
<rect x="1130" y="604" width="3" height="0.8"/><rect x="1142.5" y="604" width="3" height="0.8"/>
</g>
<g font-size="25.5" fill="#000">
<text x="1154" y="574.5">1.5</text>
<text x="1154" y="594">1.0</text>
<text x="1154" y="613.5">0.5</text>
<text x="1154" y="633.5">0.0</text>
</g>
</svg>
</body></html>
